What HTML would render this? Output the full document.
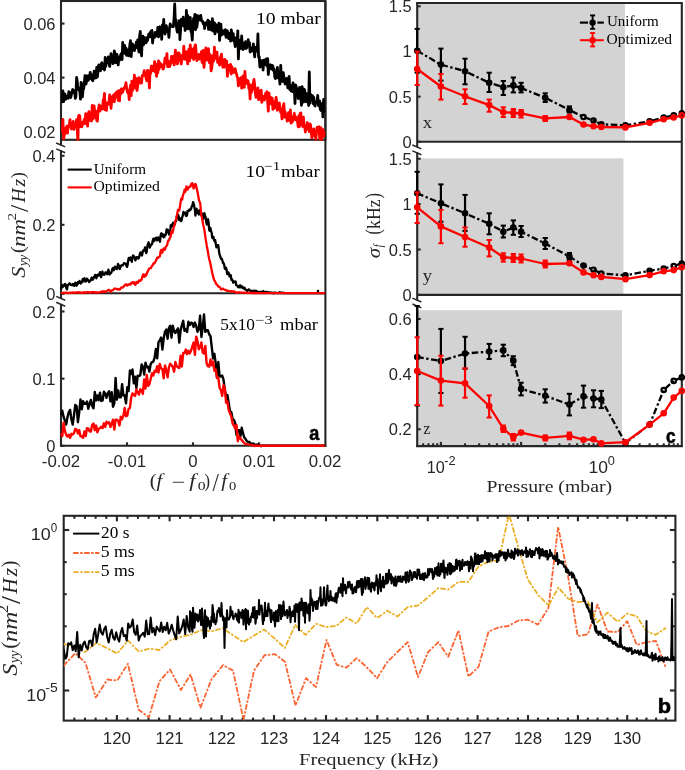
<!DOCTYPE html>
<html><head><meta charset="utf-8"><style>
html,body{margin:0;padding:0;background:#fff;width:685px;height:770px;overflow:hidden}
svg{display:block;will-change:transform}
</style></head><body>
<svg width="685" height="770" viewBox="0 0 685 770">
<rect width="685" height="770" fill="#fff"/>
<rect x="61.0" y="1.0" width="264.4" height="138.8" fill="none" stroke="#262626" stroke-width="2.1"/>
<line x1="325.40" y1="1.00" x2="325.40" y2="446.75" stroke="#262626" stroke-width="2.1" />
<line x1="61.00" y1="139.80" x2="61.00" y2="145.30" stroke="#262626" stroke-width="2.1" />
<line x1="61.00" y1="150.20" x2="61.00" y2="298.80" stroke="#262626" stroke-width="2.1" />
<line x1="61.00" y1="303.90" x2="61.00" y2="446.75" stroke="#262626" stroke-width="2.1" />
<line x1="61.00" y1="293.30" x2="325.40" y2="293.30" stroke="#262626" stroke-width="2.1" />
<line x1="60.05" y1="445.80" x2="326.35" y2="445.80" stroke="#262626" stroke-width="2.1" />
<line x1="56.20" y1="143.00" x2="65.20" y2="146.90" stroke="#262626" stroke-width="1.5" /><line x1="56.20" y1="148.90" x2="65.20" y2="152.80" stroke="#262626" stroke-width="1.5" />
<line x1="56.20" y1="296.40" x2="65.20" y2="300.30" stroke="#262626" stroke-width="1.5" /><line x1="56.20" y1="302.30" x2="65.20" y2="306.20" stroke="#262626" stroke-width="1.5" />
<line x1="61.00" y1="23.60" x2="64.50" y2="23.60" stroke="#262626" stroke-width="2.1" /><text x="55.50" y="29.60" font-family="Liberation Sans" font-size="16" fill="#262626" text-anchor="end" textLength="32.08" lengthAdjust="spacingAndGlyphs">0.06</text>
<line x1="61.00" y1="77.60" x2="64.50" y2="77.60" stroke="#262626" stroke-width="2.1" /><text x="55.50" y="83.60" font-family="Liberation Sans" font-size="16" fill="#262626" text-anchor="end" textLength="32.08" lengthAdjust="spacingAndGlyphs">0.04</text>
<line x1="61.00" y1="131.60" x2="64.50" y2="131.60" stroke="#262626" stroke-width="2.1" /><text x="55.50" y="137.60" font-family="Liberation Sans" font-size="16" fill="#262626" text-anchor="end" textLength="32.08" lengthAdjust="spacingAndGlyphs">0.02</text>
<line x1="61.00" y1="155.80" x2="64.50" y2="155.80" stroke="#262626" stroke-width="2.1" /><text x="55.50" y="161.80" font-family="Liberation Sans" font-size="16" fill="#262626" text-anchor="end" textLength="22.91" lengthAdjust="spacingAndGlyphs">0.4</text>
<line x1="61.00" y1="224.80" x2="64.50" y2="224.80" stroke="#262626" stroke-width="2.1" /><text x="55.50" y="230.80" font-family="Liberation Sans" font-size="16" fill="#262626" text-anchor="end" textLength="22.91" lengthAdjust="spacingAndGlyphs">0.2</text>
<line x1="61.00" y1="293.80" x2="64.50" y2="293.80" stroke="#262626" stroke-width="2.1" /><text x="55.50" y="299.80" font-family="Liberation Sans" font-size="16" fill="#262626" text-anchor="end" textLength="9.17" lengthAdjust="spacingAndGlyphs">0</text>
<line x1="61.00" y1="311.50" x2="64.50" y2="311.50" stroke="#262626" stroke-width="2.1" /><text x="55.50" y="317.50" font-family="Liberation Sans" font-size="16" fill="#262626" text-anchor="end" textLength="22.91" lengthAdjust="spacingAndGlyphs">0.2</text>
<line x1="61.00" y1="378.65" x2="64.50" y2="378.65" stroke="#262626" stroke-width="2.1" /><text x="55.50" y="384.65" font-family="Liberation Sans" font-size="16" fill="#262626" text-anchor="end" textLength="22.91" lengthAdjust="spacingAndGlyphs">0.1</text>
<line x1="61.00" y1="445.80" x2="64.50" y2="445.80" stroke="#262626" stroke-width="2.1" /><text x="55.50" y="451.80" font-family="Liberation Sans" font-size="16" fill="#262626" text-anchor="end" textLength="9.17" lengthAdjust="spacingAndGlyphs">0</text>
<text x="61.0" y="467.3" font-family="Liberation Sans" font-size="16" fill="#262626" text-anchor="middle" textLength="38.29" lengthAdjust="spacingAndGlyphs">-0.02</text>
<line x1="127.00" y1="445.80" x2="127.00" y2="442.30" stroke="#262626" stroke-width="2.1" />
<text x="127.0" y="467.3" font-family="Liberation Sans" font-size="16" fill="#262626" text-anchor="middle" textLength="38.29" lengthAdjust="spacingAndGlyphs">-0.01</text>
<line x1="193" y1="445.80" x2="193" y2="442.30" stroke="#262626" stroke-width="2.1" />
<text x="193.0" y="467.3" font-family="Liberation Sans" font-size="16" fill="#262626" text-anchor="middle" textLength="9.34" lengthAdjust="spacingAndGlyphs">0</text>
<line x1="259.00" y1="445.80" x2="259.00" y2="442.30" stroke="#262626" stroke-width="2.1" />
<text x="259.0" y="467.3" font-family="Liberation Sans" font-size="16" fill="#262626" text-anchor="middle" textLength="32.70" lengthAdjust="spacingAndGlyphs">0.01</text>
<text x="325.0" y="467.3" font-family="Liberation Sans" font-size="16" fill="#262626" text-anchor="middle" textLength="32.70" lengthAdjust="spacingAndGlyphs">0.02</text>
<clipPath id="cpT"><rect x="61.0" y="1.0" width="264.4" height="139.8"/></clipPath>
<g clip-path="url(#cpT)">
<polyline points="61.0,99.7 61.6,101.9 62.3,99.2 62.9,90.8 63.6,101.7 64.2,99.1 64.9,94.0 65.5,99.4 66.2,98.1 66.8,97.5 67.5,96.0 68.1,98.4 68.8,91.7 69.4,94.4 70.1,92.5 70.7,97.5 71.4,94.4 72.0,92.3 72.7,89.5 73.3,91.7 74.0,92.6 74.6,90.8 75.3,98.3 75.9,96.5 76.6,77.5 77.2,81.2 77.9,89.4 78.5,87.8 79.2,90.5 79.8,90.2 80.5,99.1 81.1,82.3 81.8,85.3 82.4,96.8 83.1,89.1 83.7,88.6 84.4,82.0 85.0,75.7 85.7,84.1 86.3,83.2 87.0,75.9 87.6,77.9 88.3,80.3 88.9,75.3 89.6,78.9 90.2,72.4 90.9,78.3 91.5,75.0 92.2,79.9 92.8,80.8 93.5,77.4 94.1,71.1 94.8,78.2 95.4,71.5 96.1,77.8 96.7,67.5 97.4,76.8 98.0,71.6 98.7,64.8 99.3,68.9 100.0,70.2 100.6,70.7 101.3,63.8 101.9,62.7 102.6,68.7 103.2,64.9 103.9,67.9 104.5,70.0 105.2,57.4 105.8,66.4 106.5,60.7 107.1,62.6 107.8,59.5 108.4,56.9 109.1,63.8 109.7,66.5 110.4,59.8 111.0,53.6 111.7,60.0 112.3,58.0 113.0,63.7 113.6,60.4 114.3,50.9 114.9,52.7 115.6,62.7 116.2,61.2 116.9,54.3 117.5,57.1 118.2,64.9 118.8,58.6 119.5,60.3 120.1,56.8 120.8,54.6 121.4,53.4 122.1,59.5 122.7,42.5 123.4,52.6 124.0,53.0 124.7,45.3 125.3,53.6 126.0,48.2 126.6,55.4 127.3,50.0 127.9,53.5 128.6,55.8 129.2,51.1 129.9,44.4 130.5,40.7 131.2,56.7 131.8,47.1 132.5,43.9 133.1,47.7 133.8,45.8 134.4,50.7 135.1,46.3 135.7,45.9 136.4,42.0 137.0,47.6 137.7,39.8 138.3,48.0 139.0,52.0 139.6,36.4 140.3,31.4 140.9,46.6 141.6,55.9 142.2,37.8 142.9,36.1 143.5,44.9 144.2,37.3 144.8,38.5 145.5,38.8 146.1,42.8 146.8,37.6 147.4,40.6 148.1,37.8 148.7,34.1 149.4,36.2 150.0,32.6 150.7,36.9 151.3,30.8 152.0,30.5 152.6,43.0 153.3,35.1 153.9,34.8 154.6,37.3 155.2,32.3 155.9,32.9 156.5,35.9 157.2,34.8 157.8,27.3 158.5,36.9 159.1,29.5 159.8,26.8 160.4,27.3 161.1,29.5 161.7,39.3 162.4,24.9 163.0,31.3 163.7,19.5 164.3,29.8 165.0,34.0 165.6,28.0 166.3,25.7 166.9,29.7 167.6,31.7 168.2,31.2 168.9,37.4 169.5,28.3 170.2,23.9 170.8,25.9 171.5,25.9 172.1,26.5 172.8,25.8 173.4,26.7 174.1,17.5 174.7,4.0 175.4,22.8 176.0,19.8 176.7,28.8 177.3,32.1 178.0,27.9 178.6,26.2 179.3,20.7 179.9,39.6 180.6,29.6 181.2,19.5 181.9,21.2 182.5,25.5 183.2,17.2 183.8,25.6 184.5,22.3 185.1,30.5 185.8,29.0 186.4,10.4 187.1,24.0 187.7,15.5 188.4,28.9 189.0,24.0 189.7,25.7 190.3,17.5 191.0,31.7 191.6,32.5 192.3,40.0 192.9,23.9 193.6,18.3 194.2,21.1 194.9,14.5 195.5,29.8 196.2,15.2 196.8,27.3 197.5,21.8 198.1,15.9 198.8,18.5 199.4,17.4 200.1,20.1 200.7,15.5 201.4,19.7 202.0,21.4 202.7,21.4 203.3,23.9 204.0,22.7 204.6,28.5 205.3,23.5 205.9,24.8 206.6,22.5 207.2,23.5 207.9,20.1 208.5,29.4 209.2,21.4 209.8,23.7 210.5,29.5 211.1,30.1 211.8,26.4 212.4,18.6 213.1,31.2 213.7,30.7 214.4,22.6 215.0,33.9 215.7,26.7 216.3,24.8 217.0,31.1 217.6,29.9 218.3,32.0 218.9,23.2 219.6,40.4 220.2,28.6 220.9,24.1 221.5,35.1 222.2,30.4 222.8,34.0 223.5,30.9 224.1,32.4 224.8,34.2 225.4,29.7 226.1,37.4 226.7,32.2 227.4,30.8 228.0,36.1 228.7,38.6 229.3,35.8 230.0,33.2 230.6,41.2 231.3,29.9 231.9,34.1 232.6,40.0 233.2,33.6 233.9,41.1 234.5,41.3 235.2,46.6 235.8,37.8 236.5,39.5 237.1,44.5 237.8,30.8 238.4,58.9 239.1,40.1 239.7,40.3 240.4,48.5 241.0,44.2 241.7,35.8 242.3,48.1 243.0,49.5 243.6,43.2 244.3,44.3 244.9,48.4 245.6,41.6 246.2,48.4 246.9,47.4 247.5,43.1 248.2,39.7 248.8,45.6 249.5,42.5 250.1,52.0 250.8,47.9 251.4,51.2 252.1,48.1 252.7,48.9 253.4,43.8 254.0,51.2 254.7,56.9 255.3,47.3 256.0,47.4 256.6,51.2 257.3,51.1 257.9,34.0 258.6,57.3 259.2,56.7 259.9,67.0 260.5,60.5 261.2,62.7 261.8,66.4 262.5,60.7 263.1,70.0 263.8,60.3 264.4,60.0 265.1,62.8 265.7,64.6 266.4,58.8 267.0,66.2 267.7,58.6 268.3,74.5 269.0,67.7 269.6,65.5 270.3,64.7 270.9,67.7 271.6,69.0 272.2,65.4 272.9,66.4 273.5,70.5 274.2,69.3 274.8,77.1 275.5,78.5 276.1,73.4 276.8,76.1 277.4,67.5 278.1,77.9 278.7,75.0 279.4,78.0 280.0,84.0 280.7,65.3 281.3,78.6 282.0,72.4 282.6,81.5 283.3,72.6 283.9,77.3 284.6,81.4 285.2,84.1 285.9,82.0 286.5,78.3 287.2,80.1 287.8,87.9 288.5,84.0 289.1,76.3 289.8,89.5 290.4,88.0 291.1,90.8 291.7,85.3 292.4,91.7 293.0,82.8 293.7,91.5 294.3,86.7 295.0,103.5 295.6,84.8 296.3,87.2 296.9,91.2 297.6,92.2 298.2,98.5 298.9,96.6 299.5,87.5 300.2,96.4 300.8,98.1 301.5,105.3 302.1,86.6 302.8,92.6 303.4,102.2 304.1,89.1 304.7,90.1 305.4,99.0 306.0,101.8 306.7,93.7 307.3,100.0 308.0,98.2 308.6,105.5 309.3,72.0 309.9,103.4 310.6,94.4 311.2,98.5 311.9,99.3 312.5,95.7 313.2,103.6 313.8,97.4 314.5,105.1 315.1,106.0 315.8,102.0 316.4,101.7 317.1,102.5 317.7,95.5 318.4,105.3 319.0,106.0 319.7,101.0 320.3,109.4 321.0,110.4 321.6,103.6 322.3,104.3 322.9,116.9 323.6,99.3 324.2,110.4 324.9,112.7" fill="none" stroke="#000" stroke-width="2.8" stroke-linejoin="round" />
<polyline points="61.0,132.9 61.6,129.2 62.3,129.3 62.9,119.4 63.6,139.0 64.2,135.6 64.9,128.3 65.5,133.1 66.2,130.4 66.8,126.1 67.5,133.0 68.1,126.6 68.8,126.1 69.4,123.6 70.1,119.6 70.7,126.2 71.4,129.0 72.0,123.3 72.7,126.5 73.3,121.5 74.0,129.4 74.6,126.0 75.3,126.4 75.9,126.5 76.6,119.6 77.2,127.8 77.9,142.4 78.5,115.9 79.2,115.2 79.8,116.0 80.5,126.6 81.1,122.8 81.8,126.8 82.4,124.7 83.1,121.8 83.7,121.7 84.4,119.1 85.0,123.5 85.7,113.7 86.3,116.6 87.0,119.2 87.6,126.1 88.3,113.6 88.9,111.7 89.6,113.6 90.2,120.4 90.9,114.2 91.5,121.0 92.2,105.4 92.8,119.0 93.5,118.1 94.1,106.0 94.8,112.9 95.4,117.4 96.1,111.5 96.7,120.4 97.4,121.2 98.0,110.8 98.7,107.7 99.3,104.9 100.0,111.0 100.6,106.6 101.3,106.2 101.9,106.1 102.6,109.2 103.2,100.6 103.9,98.0 104.5,93.3 105.2,109.9 105.8,104.1 106.5,110.4 107.1,102.8 107.8,103.8 108.4,104.1 109.1,101.0 109.7,95.0 110.4,96.3 111.0,108.3 111.7,101.2 112.3,101.0 113.0,97.3 113.6,94.9 114.3,101.9 114.9,96.7 115.6,93.2 116.2,95.7 116.9,91.6 117.5,96.3 118.2,100.3 118.8,90.6 119.5,100.8 120.1,90.5 120.8,93.9 121.4,88.8 122.1,91.3 122.7,92.2 123.4,89.5 124.0,87.9 124.7,87.6 125.3,86.5 126.0,82.6 126.6,88.4 127.3,91.1 127.9,93.1 128.6,91.5 129.2,99.6 129.9,89.2 130.5,85.1 131.2,95.7 131.8,81.5 132.5,90.5 133.1,80.9 133.8,86.6 134.4,75.2 135.1,88.2 135.7,82.8 136.4,78.5 137.0,90.5 137.7,85.7 138.3,81.9 139.0,77.7 139.6,80.5 140.3,79.5 140.9,83.2 141.6,83.0 142.2,75.6 142.9,75.6 143.5,75.1 144.2,70.7 144.8,73.7 145.5,75.4 146.1,78.5 146.8,80.9 147.4,70.3 148.1,76.1 148.7,70.8 149.4,88.0 150.0,71.5 150.7,73.5 151.3,66.2 152.0,66.2 152.6,70.7 153.3,67.7 153.9,70.9 154.6,61.6 155.2,71.8 155.9,64.2 156.5,76.3 157.2,66.6 157.8,72.8 158.5,60.8 159.1,69.2 159.8,62.7 160.4,64.3 161.1,66.5 161.7,64.6 162.4,67.0 163.0,69.0 163.7,68.2 164.3,64.4 165.0,58.1 165.6,60.4 166.3,62.9 166.9,53.6 167.6,66.7 168.2,61.7 168.9,61.4 169.5,66.7 170.2,65.0 170.8,62.6 171.5,56.5 172.1,62.4 172.8,62.3 173.4,56.2 174.1,64.9 174.7,62.1 175.4,50.2 176.0,59.7 176.7,52.9 177.3,63.9 178.0,62.1 178.6,52.8 179.3,53.5 179.9,57.9 180.6,56.0 181.2,64.0 181.9,60.0 182.5,54.9 183.2,58.7 183.8,46.2 184.5,57.0 185.1,59.4 185.8,54.3 186.4,51.6 187.1,57.4 187.7,63.8 188.4,55.3 189.0,48.9 189.7,60.8 190.3,45.0 191.0,56.0 191.6,50.7 192.3,57.6 192.9,49.0 193.6,59.5 194.2,54.9 194.9,45.7 195.5,44.8 196.2,52.9 196.8,60.7 197.5,55.5 198.1,55.5 198.8,54.4 199.4,59.2 200.1,57.8 200.7,57.4 201.4,51.6 202.0,61.9 202.7,62.8 203.3,50.3 204.0,67.4 204.6,60.0 205.3,54.4 205.9,47.8 206.6,60.0 207.2,59.6 207.9,54.3 208.5,48.7 209.2,62.5 209.8,54.5 210.5,55.2 211.1,70.9 211.8,67.6 212.4,62.1 213.1,55.6 213.7,60.9 214.4,47.2 215.0,58.5 215.7,54.9 216.3,52.9 217.0,52.0 217.6,62.3 218.3,60.7 218.9,61.5 219.6,65.2 220.2,57.7 220.9,56.3 221.5,54.2 222.2,61.5 222.8,67.1 223.5,63.2 224.1,67.4 224.8,59.3 225.4,63.3 226.1,62.6 226.7,61.1 227.4,76.4 228.0,72.4 228.7,65.5 229.3,66.2 230.0,70.2 230.6,64.4 231.3,74.0 231.9,66.6 232.6,71.6 233.2,69.3 233.9,72.5 234.5,69.2 235.2,68.8 235.8,72.1 236.5,74.0 237.1,76.3 237.8,78.6 238.4,85.9 239.1,83.1 239.7,78.6 240.4,83.7 241.0,77.6 241.7,88.2 242.3,84.5 243.0,76.0 243.6,86.5 244.3,87.3 244.9,71.3 245.6,80.8 246.2,82.4 246.9,83.5 247.5,80.3 248.2,81.1 248.8,88.3 249.5,87.7 250.1,98.9 250.8,85.0 251.4,92.6 252.1,87.9 252.7,89.1 253.4,82.7 254.0,79.5 254.7,85.2 255.3,92.9 256.0,97.4 256.6,93.4 257.3,93.5 257.9,87.9 258.6,99.6 259.2,99.4 259.9,91.2 260.5,94.1 261.2,90.2 261.8,102.4 262.5,98.0 263.1,96.3 263.8,99.3 264.4,100.0 265.1,96.6 265.7,93.2 266.4,93.4 267.0,91.7 267.7,102.4 268.3,111.1 269.0,93.1 269.6,102.2 270.3,103.9 270.9,97.7 271.6,103.8 272.2,98.1 272.9,109.3 273.5,101.3 274.2,105.0 274.8,108.1 275.5,103.3 276.1,97.4 276.8,103.8 277.4,110.3 278.1,106.8 278.7,108.7 279.4,103.0 280.0,109.2 280.7,112.4 281.3,109.6 282.0,118.9 282.6,109.4 283.3,105.9 283.9,103.7 284.6,117.1 285.2,111.9 285.9,117.4 286.5,115.2 287.2,121.2 287.8,119.9 288.5,112.7 289.1,116.2 289.8,120.5 290.4,110.0 291.1,123.1 291.7,122.4 292.4,121.8 293.0,116.7 293.7,119.5 294.3,113.3 295.0,119.3 295.6,116.7 296.3,120.3 296.9,118.0 297.6,122.2 298.2,126.8 298.9,115.6 299.5,126.5 300.2,113.3 300.8,112.9 301.5,123.0 302.1,124.0 302.8,126.5 303.4,117.2 304.1,125.1 304.7,126.4 305.4,132.1 306.0,126.0 306.7,129.3 307.3,122.6 308.0,126.6 308.6,125.7 309.3,131.5 309.9,123.8 310.6,124.9 311.2,131.8 311.9,137.9 312.5,131.6 313.2,131.5 313.8,128.8 314.5,135.9 315.1,133.6 315.8,139.5 316.4,133.1 317.1,127.4 317.7,129.4 318.4,127.7 319.0,126.7 319.7,138.8 320.3,136.9 321.0,127.6 321.6,142.0 322.3,135.1 322.9,129.7 323.6,136.3 324.2,134.4 324.9,131.3" fill="none" stroke="#f00" stroke-width="2.8" stroke-linejoin="round" />
</g>
<polyline points="61.0,289.5 61.6,286.8 62.2,285.0 62.8,286.8 63.4,285.8 64.0,286.0 64.6,284.2 65.2,284.0 65.8,285.0 66.4,288.4 67.0,289.4 67.6,285.5 68.2,284.8 68.8,284.3 69.4,283.3 70.0,283.5 70.6,284.9 71.2,284.8 71.8,285.2 72.4,285.0 73.0,283.9 73.6,285.5 74.2,285.9 74.8,283.6 75.4,282.7 76.0,283.6 76.6,285.7 77.2,284.7 77.8,282.2 78.4,283.4 79.0,282.6 79.6,281.0 80.2,282.7 80.8,283.5 81.4,282.5 82.0,282.4 82.6,279.2 83.2,279.4 83.8,281.2 84.4,278.2 85.0,279.3 85.6,281.7 86.2,280.8 86.8,278.7 87.4,279.1 88.0,280.0 88.6,281.3 89.2,282.1 89.8,280.6 90.4,280.8 91.0,280.1 91.6,277.6 92.2,278.2 92.8,279.7 93.4,278.5 94.0,276.8 94.6,277.0 95.2,274.9 95.8,275.2 96.4,278.3 97.0,275.4 97.6,274.7 98.2,275.2 98.8,275.7 99.4,274.3 100.0,272.2 100.6,275.0 101.2,277.1 101.8,273.6 102.4,271.5 103.0,274.1 103.6,273.7 104.2,274.9 104.8,274.0 105.4,272.4 106.0,272.3 106.6,273.3 107.2,274.2 107.8,271.9 108.4,269.7 109.0,271.9 109.6,274.5 110.2,273.2 110.8,273.3 111.4,272.5 112.0,270.2 112.6,268.5 113.2,268.0 113.8,270.3 114.4,269.2 115.0,266.6 115.6,267.6 116.2,268.3 116.8,269.1 117.4,267.0 118.0,263.9 118.6,265.1 119.2,268.3 119.8,269.0 120.4,267.4 121.0,265.7 121.6,265.4 122.2,265.1 122.8,265.4 123.4,264.3 124.0,263.1 124.6,263.5 125.2,263.6 125.8,263.7 126.4,265.7 127.0,266.9 127.6,265.2 128.2,260.5 128.8,257.8 129.4,259.2 130.0,259.9 130.6,257.5 131.2,258.0 131.8,261.8 132.4,258.4 133.0,255.5 133.6,255.8 134.2,256.7 134.8,258.2 135.4,260.4 136.0,259.0 136.6,257.1 137.2,257.2 137.8,258.1 138.4,258.6 139.0,257.7 139.6,255.1 140.2,252.7 140.8,252.4 141.4,254.1 142.0,255.5 142.6,252.5 143.2,250.4 143.8,250.9 144.4,250.0 145.0,247.4 145.6,248.5 146.2,253.1 146.8,251.4 147.4,246.2 148.0,244.2 148.6,242.3 149.2,244.4 149.8,247.5 150.4,246.1 151.0,244.8 151.6,244.5 152.2,243.7 152.8,240.3 153.4,238.7 154.0,241.2 154.6,240.1 155.2,238.5 155.8,237.9 156.4,237.7 157.0,240.4 157.6,239.8 158.2,237.3 158.8,239.3 159.4,240.4 160.0,241.8 160.6,235.6 161.2,233.3 161.8,236.0 162.4,233.9 163.0,236.0 163.6,237.3 164.2,237.2 164.8,234.6 165.4,235.2 166.0,233.7 166.6,229.5 167.2,231.2 167.8,229.7 168.4,231.9 169.0,234.5 169.6,234.0 170.2,231.2 170.8,225.2 171.4,224.9 172.0,226.4 172.6,224.2 173.2,222.7 173.8,223.2 174.4,225.0 175.0,223.0 175.6,221.3 176.2,220.9 176.8,216.3 177.4,215.7 178.0,214.7 178.6,216.0 179.2,220.1 179.8,219.6 180.4,218.5 181.0,221.2 181.6,220.3 182.2,217.1 182.8,215.7 183.4,211.8 184.0,213.7 184.6,213.1 185.2,212.6 185.8,215.6 186.4,216.0 187.0,215.4 187.6,210.8 188.2,211.2 188.8,211.2 189.4,209.5 190.0,210.2 190.6,209.6 191.2,208.4 191.8,206.3 192.4,205.6 193.0,202.2 193.6,203.2 194.2,206.0 194.8,209.5 195.4,215.5 196.0,210.1 196.6,208.7 197.2,213.2 197.8,211.1 198.4,212.9 199.0,214.5 199.6,210.2 200.2,210.9 200.8,214.5 201.4,215.5 202.0,213.5 202.6,214.8 203.2,219.1 203.8,215.7 204.4,213.1 205.0,215.5 205.6,216.9 206.2,221.8 206.8,224.6 207.4,220.2 208.0,219.3 208.6,222.5 209.2,230.0 209.8,230.9 210.4,228.0 211.0,231.1 211.6,232.4 212.2,237.7 212.8,238.3 213.4,236.8 214.0,239.9 214.6,241.3 215.2,240.1 215.8,243.9 216.4,247.4 217.0,245.4 217.6,245.2 218.2,245.2 218.8,249.5 219.4,254.0 220.0,255.7 220.6,257.6 221.2,259.1 221.8,258.7 222.4,260.5 223.0,263.0 223.6,263.0 224.2,264.8 224.8,268.5 225.4,269.1 226.0,267.8 226.6,269.7 227.2,274.1 227.8,273.9 228.4,272.4 229.0,273.7 229.6,276.6 230.2,275.5 230.8,275.3 231.4,279.8 232.0,279.2 232.6,280.4 233.2,282.7 233.8,281.3 234.4,281.8 235.0,281.7 235.6,281.5 236.2,285.2 236.8,285.4 237.4,285.8 238.0,287.0 238.6,286.8 239.2,287.4 239.8,285.4 240.4,285.3 241.0,287.4 241.6,287.3 242.2,286.5 242.8,287.8 243.4,288.5 244.0,287.6 244.6,287.9 245.2,289.5 245.8,289.8 246.4,289.9 247.0,290.9 247.6,290.6 248.2,289.7 248.8,289.4 249.4,289.9 250.0,290.7 250.6,290.9 251.2,290.9 251.8,290.9 252.4,290.9 253.0,291.0 253.6,291.0 254.2,290.9 254.8,290.7 255.4,291.0 256.0,291.1 256.6,291.0 257.2,291.6 257.8,291.8 258.4,292.5 259.0,292.8 259.6,291.9 260.2,291.9 260.8,292.2 261.4,291.8 262.0,292.1 262.6,292.1 263.2,291.1 263.8,291.5 264.4,292.2 265.0,292.4 265.6,292.4 266.2,291.8 266.8,292.4 267.4,292.4 268.0,292.1 268.6,292.8 269.2,292.8 269.8,292.5 270.4,292.5 271.0,292.8 271.6,292.6 272.2,292.6 272.8,292.9 273.4,293.4 274.0,293.2 274.6,292.5 275.2,292.8 275.8,292.9 276.4,292.8 277.0,292.9 277.6,293.2 278.2,293.0 278.8,292.7 279.4,292.3 280.0,292.2 280.6,293.1 281.2,293.2 281.8,292.7 282.4,292.6 283.0,292.9 283.6,293.2 284.2,292.8 284.8,293.0 285.4,293.2 286.0,293.1 286.6,293.1 287.2,293.1 287.8,293.1 288.4,293.2 289.0,293.2 289.6,293.2 290.2,293.2 290.8,293.2 291.4,293.2 292.0,293.2 292.6,293.2 293.2,293.2 293.8,293.2 294.4,293.2 295.0,293.2 295.6,293.2 296.2,293.2 296.8,293.2 297.4,293.2 298.0,293.2 298.6,293.2 299.2,293.2 299.8,293.2 300.4,293.2 301.0,293.2 301.6,293.2 302.2,293.2 302.8,293.2 303.4,293.2 304.0,293.2 304.6,293.2 305.2,293.2 305.8,293.2 306.4,293.2 307.0,293.2 307.6,293.2 308.2,293.2 308.8,293.2 309.4,293.2 310.0,293.2 310.6,293.2 311.2,293.2 311.8,293.2 312.4,293.2 313.0,293.2 313.6,293.2 314.2,293.2 314.8,293.2 315.4,293.2 316.0,293.2 316.6,293.2 317.2,293.2 317.8,293.2 318.4,293.2 319.0,293.2 319.6,293.2 320.2,293.2 320.8,293.2 321.4,293.2 322.0,293.2 322.6,293.2 323.2,293.2 323.8,293.2 324.4,293.2 325.0,293.2" fill="none" stroke="#000" stroke-width="2.3" stroke-linejoin="round" />
<polyline points="61.0,292.9 61.6,292.9 62.2,293.1 62.8,293.2 63.4,292.8 64.0,292.7 64.6,292.8 65.2,292.9 65.8,292.7 66.4,292.7 67.0,292.9 67.6,293.1 68.2,293.1 68.8,293.0 69.4,292.7 70.0,292.9 70.6,292.9 71.2,292.7 71.8,292.9 72.4,292.6 73.0,292.5 73.6,292.5 74.2,292.7 74.8,292.8 75.4,293.0 76.0,292.6 76.6,292.3 77.2,292.5 77.8,292.6 78.4,292.4 79.0,292.1 79.6,292.6 80.2,292.3 80.8,292.5 81.4,292.8 82.0,292.8 82.6,293.0 83.2,292.5 83.8,292.1 84.4,292.3 85.0,292.6 85.6,292.9 86.2,292.5 86.8,292.2 87.4,292.1 88.0,292.1 88.6,292.2 89.2,292.3 89.8,292.9 90.4,292.8 91.0,292.2 91.6,292.4 92.2,292.2 92.8,292.0 93.4,292.2 94.0,292.5 94.6,292.2 95.2,292.3 95.8,292.6 96.4,292.2 97.0,292.6 97.6,292.7 98.2,292.7 98.8,292.6 99.4,292.3 100.0,292.3 100.6,291.9 101.2,292.1 101.8,292.1 102.4,291.2 103.0,292.0 103.6,292.3 104.2,291.2 104.8,291.7 105.4,291.9 106.0,291.6 106.6,291.4 107.2,290.8 107.8,290.4 108.4,289.8 109.0,289.9 109.6,290.5 110.2,291.0 110.8,291.8 111.4,291.0 112.0,290.4 112.6,290.4 113.2,289.8 113.8,289.3 114.4,288.6 115.0,288.7 115.6,288.7 116.2,288.9 116.8,289.0 117.4,289.4 118.0,289.7 118.6,289.1 119.2,289.4 119.8,289.5 120.4,288.6 121.0,287.8 121.6,287.3 122.2,287.5 122.8,287.6 123.4,286.8 124.0,286.4 124.6,285.4 125.2,284.9 125.8,284.3 126.4,284.7 127.0,285.5 127.6,284.6 128.2,284.8 128.8,284.6 129.4,284.0 130.0,284.6 130.6,284.6 131.2,283.0 131.8,283.0 132.4,282.2 133.0,282.8 133.6,283.6 134.2,282.2 134.8,283.7 135.4,285.0 136.0,283.2 136.6,281.9 137.2,282.4 137.8,283.0 138.4,281.8 139.0,280.4 139.6,281.2 140.2,281.0 140.8,280.1 141.4,279.8 142.0,277.8 142.6,276.1 143.2,274.4 143.8,274.3 144.4,276.9 145.0,275.7 145.6,274.7 146.2,275.5 146.8,273.6 147.4,271.9 148.0,271.2 148.6,269.6 149.2,268.5 149.8,268.2 150.4,268.2 151.0,268.1 151.6,266.4 152.2,265.7 152.8,264.9 153.4,263.4 154.0,263.6 154.6,263.1 155.2,261.9 155.8,261.1 156.4,259.8 157.0,258.1 157.6,257.4 158.2,257.8 158.8,256.9 159.4,256.7 160.0,256.0 160.6,251.2 161.2,249.9 161.8,252.9 162.4,252.5 163.0,249.9 163.6,248.4 164.2,249.0 164.8,249.8 165.4,248.2 166.0,246.5 166.6,245.9 167.2,245.1 167.8,241.6 168.4,240.3 169.0,240.3 169.6,238.4 170.2,237.5 170.8,236.0 171.4,231.3 172.0,230.9 172.6,232.8 173.2,229.8 173.8,226.7 174.4,225.5 175.0,222.8 175.6,220.4 176.2,219.3 176.8,216.1 177.4,212.8 178.0,210.0 178.6,210.3 179.2,210.6 179.8,207.6 180.4,203.6 181.0,199.6 181.6,198.3 182.2,199.6 182.8,195.7 183.4,194.2 184.0,192.5 184.6,189.7 185.2,191.9 185.8,189.7 186.4,186.3 187.0,187.3 187.6,189.6 188.2,187.9 188.8,187.7 189.4,186.5 190.0,186.2 190.6,186.6 191.2,183.9 191.8,183.7 192.4,183.3 193.0,185.4 193.6,188.4 194.2,187.3 194.8,184.8 195.4,183.9 196.0,184.9 196.6,188.1 197.2,190.6 197.8,193.4 198.4,196.7 199.0,200.5 199.6,201.8 200.2,203.2 200.8,209.9 201.4,215.5 202.0,217.3 202.6,221.3 203.2,224.7 203.8,227.2 204.4,230.1 205.0,234.3 205.6,238.6 206.2,242.1 206.8,245.9 207.4,248.9 208.0,252.1 208.6,256.0 209.2,259.0 209.8,261.1 210.4,263.8 211.0,266.8 211.6,269.8 212.2,272.8 212.8,275.1 213.4,277.4 214.0,279.8 214.6,280.6 215.2,281.8 215.8,283.1 216.4,284.2 217.0,284.5 217.6,285.4 218.2,286.5 218.8,286.7 219.4,287.0 220.0,287.3 220.6,288.7 221.2,289.4 221.8,289.1 222.4,288.9 223.0,288.6 223.6,289.1 224.2,289.5 224.8,289.9 225.4,289.9 226.0,290.1 226.6,290.8 227.2,290.7 227.8,290.8 228.4,290.9 229.0,290.9 229.6,291.2 230.2,291.5 230.8,291.4 231.4,291.2 232.0,291.6 232.6,291.5 233.2,291.4 233.8,291.5 234.4,291.5 235.0,291.9 235.6,292.2 236.2,292.6 236.8,292.8 237.4,292.6 238.0,292.5 238.6,292.3 239.2,292.5 239.8,292.3 240.4,292.6 241.0,292.6 241.6,292.6 242.2,292.7 242.8,292.7 243.4,292.7 244.0,292.7 244.6,292.7 245.2,292.8 245.8,292.8 246.4,292.8 247.0,292.8 247.6,292.8 248.2,292.8 248.8,292.9 249.4,292.9 250.0,292.9 250.6,292.9 251.2,292.9 251.8,293.0 252.4,293.0 253.0,293.0 253.6,293.0 254.2,293.0 254.8,293.0 255.4,293.1 256.0,293.1 256.6,293.1 257.2,293.1 257.8,293.1 258.4,293.2 259.0,293.2 259.6,293.2 260.2,293.2 260.8,293.2 261.4,293.2 262.0,293.2 262.6,293.2 263.2,293.2 263.8,293.2 264.4,293.2 265.0,293.2 265.6,293.2 266.2,293.2 266.8,293.2 267.4,293.2 268.0,293.2 268.6,293.2 269.2,293.2 269.8,293.2 270.4,293.2 271.0,293.2 271.6,293.2 272.2,293.2 272.8,293.2 273.4,293.2 274.0,293.2 274.6,293.2 275.2,293.2 275.8,293.2 276.4,293.2 277.0,293.2 277.6,293.2 278.2,293.2 278.8,293.2 279.4,293.2 280.0,293.2 280.6,293.2 281.2,293.2 281.8,293.2 282.4,293.2 283.0,293.2 283.6,293.2 284.2,293.2 284.8,293.2 285.4,293.2 286.0,293.2 286.6,293.2 287.2,293.2 287.8,293.2 288.4,293.2 289.0,293.2 289.6,293.2 290.2,293.2 290.8,293.2 291.4,293.2 292.0,293.2 292.6,293.2 293.2,293.2 293.8,293.2 294.4,293.2 295.0,293.2 295.6,293.2 296.2,293.2 296.8,293.2 297.4,293.2 298.0,293.2 298.6,293.2 299.2,293.2 299.8,293.2 300.4,293.2 301.0,293.2 301.6,293.2 302.2,293.2 302.8,293.2 303.4,293.2 304.0,293.2 304.6,293.2 305.2,293.2 305.8,293.2 306.4,293.2 307.0,293.2 307.6,293.2 308.2,293.2 308.8,293.2 309.4,293.2 310.0,293.2 310.6,293.2 311.2,293.2 311.8,293.2 312.4,293.2 313.0,293.2 313.6,293.2 314.2,293.2 314.8,293.2 315.4,293.2 316.0,293.2 316.6,293.2 317.2,293.2 317.8,293.2 318.4,293.2 319.0,293.2 319.6,293.2 320.2,293.2 320.8,293.2 321.4,293.2 322.0,293.2 322.6,293.2 323.2,293.2 323.8,293.2 324.4,293.2 325.0,293.2" fill="none" stroke="#f00" stroke-width="2.3" stroke-linejoin="round" />
<circle cx="318" cy="291" r="1.3" fill="#000"/>
<polyline points="61.0,414.8 62.3,410.7 63.6,416.9 64.9,420.6 66.2,424.5 67.5,417.1 68.8,412.1 70.1,409.9 71.4,419.3 72.7,424.5 74.0,415.2 75.3,404.9 76.6,406.1 77.9,422.2 79.2,412.6 80.5,399.4 81.8,409.2 83.1,401.3 84.4,403.8 85.7,403.8 87.0,401.5 88.3,408.8 89.6,403.9 90.9,399.9 92.2,406.0 93.5,408.3 94.8,391.9 96.1,400.5 97.4,395.4 98.7,400.3 100.0,392.6 101.3,401.0 102.6,400.5 103.9,391.7 105.2,393.7 106.5,397.8 107.8,393.1 109.1,391.3 110.4,401.3 111.7,392.3 113.0,406.7 114.3,403.4 115.6,378.0 116.9,399.7 118.2,390.4 119.5,397.4 120.8,397.3 122.1,384.1 123.4,395.5 124.7,395.3 126.0,403.3 127.3,387.3 128.6,391.1 129.9,370.5 131.2,373.9 132.5,369.5 133.8,383.4 135.1,376.6 136.4,388.0 137.7,375.6 139.0,376.1 140.3,375.2 141.6,364.5 142.9,366.6 144.2,374.6 145.5,362.7 146.8,367.3 148.1,366.7 149.4,371.6 150.7,363.9 152.0,362.2 153.3,361.7 154.6,357.6 155.9,348.9 157.2,358.3 158.5,342.0 159.8,340.5 161.1,337.5 162.4,349.5 163.7,338.3 165.0,331.7 166.3,329.6 167.6,338.7 168.9,328.0 170.2,325.7 171.5,337.7 172.8,325.7 174.1,331.1 175.4,333.0 176.7,330.4 178.0,328.3 179.3,342.6 180.6,330.4 181.9,325.1 183.2,320.8 184.5,330.9 185.8,329.1 187.1,332.0 188.4,321.6 189.7,325.1 191.0,322.7 192.3,323.2 193.6,326.9 194.9,322.6 196.2,325.9 197.5,331.8 198.8,328.9 200.1,315.7 201.4,337.0 202.7,327.7 204.0,314.5 205.3,331.9 206.6,330.2 207.9,330.3 209.2,334.3 210.5,336.2 211.8,347.4 213.1,358.5 214.4,353.8 215.7,363.3 217.0,377.4 218.3,362.0 219.6,376.2 220.9,376.6 222.2,375.5 223.5,379.6 224.8,389.9 226.1,397.0 227.4,394.9 228.7,402.9 230.0,411.4 231.3,412.0 232.6,419.0 233.9,419.7 235.2,423.2 236.5,435.0 237.8,430.3 239.1,430.2 240.4,436.6 241.7,427.8 243.0,433.2 244.3,437.5 245.6,439.1 246.9,441.2 248.2,442.1 249.5,441.9 250.8,443.8 252.1,443.9 253.4,443.5 254.7,444.9 256.0,444.8 257.3,444.5 258.6,445.3 259.9,445.4 261.2,446.2 262.5,445.6 263.8,445.7 265.1,445.7 266.4,445.8 267.7,445.8 269.0,445.8 270.3,445.8 271.6,445.8 272.9,445.8 274.2,445.8 275.5,445.8 276.8,445.8 278.1,445.8 279.4,445.8 280.7,445.8 282.0,445.8 283.3,445.8 284.6,445.8 285.9,445.8 287.2,445.8 288.5,445.8 289.8,445.8 291.1,445.8 292.4,445.8 293.7,445.8 295.0,445.8 296.3,445.8 297.6,445.8 298.9,445.8 300.2,445.8 301.5,445.8 302.8,445.8 304.1,445.8 305.4,445.8 306.7,445.8 308.0,445.8 309.3,445.8 310.6,445.8 311.9,445.8 313.2,445.8 314.5,445.8 315.8,445.8 317.1,445.8 318.4,445.8 319.7,445.8 321.0,445.8 322.3,445.8 323.6,445.8 324.9,445.8" fill="none" stroke="#000" stroke-width="2.4" stroke-linejoin="round" />
<polyline points="61.0,433.4 62.3,436.1 63.6,422.6 64.9,430.9 66.2,435.0 67.5,436.6 68.8,434.7 70.1,437.9 71.4,433.8 72.7,434.5 74.0,433.2 75.3,428.9 76.6,429.5 77.9,433.5 79.2,430.1 80.5,436.2 81.8,436.2 83.1,437.8 84.4,431.5 85.7,436.1 87.0,428.2 88.3,428.4 89.6,431.3 90.9,431.6 92.2,424.6 93.5,423.6 94.8,430.3 96.1,425.6 97.4,432.3 98.7,428.9 100.0,428.1 101.3,426.7 102.6,428.1 103.9,423.3 105.2,426.9 106.5,421.7 107.8,423.3 109.1,422.2 110.4,426.9 111.7,423.9 113.0,419.7 114.3,429.6 115.6,419.7 116.9,419.7 118.2,420.8 119.5,425.4 120.8,416.8 122.1,419.2 123.4,415.7 124.7,408.0 126.0,416.2 127.3,415.7 128.6,408.6 129.9,408.1 131.2,397.5 132.5,393.4 133.8,394.8 135.1,395.9 136.4,389.6 137.7,392.3 139.0,394.6 140.3,389.2 141.6,390.6 142.9,393.9 144.2,379.4 145.5,388.5 146.8,374.9 148.1,385.9 149.4,384.3 150.7,378.7 152.0,373.2 153.3,375.4 154.6,370.8 155.9,371.9 157.2,366.1 158.5,372.6 159.8,363.9 161.1,368.4 162.4,369.0 163.7,378.3 165.0,365.5 166.3,370.1 167.6,377.4 168.9,367.4 170.2,363.7 171.5,365.3 172.8,366.9 174.1,371.7 175.4,362.0 176.7,366.3 178.0,367.3 179.3,367.9 180.6,355.6 181.9,366.5 183.2,353.0 184.5,353.1 185.8,349.6 187.1,354.1 188.4,350.7 189.7,353.4 191.0,350.8 192.3,346.5 193.6,342.6 194.9,354.9 196.2,336.7 197.5,341.1 198.8,349.2 200.1,347.4 201.4,342.5 202.7,352.3 204.0,353.5 205.3,345.9 206.6,363.3 207.9,366.2 209.2,366.7 210.5,359.5 211.8,365.3 213.1,361.6 214.4,370.8 215.7,369.4 217.0,378.0 218.3,377.5 219.6,387.7 220.9,390.2 222.2,395.9 223.5,385.3 224.8,387.9 226.1,402.7 227.4,401.5 228.7,410.0 230.0,413.2 231.3,416.3 232.6,423.6 233.9,425.5 235.2,428.6 236.5,425.0 237.8,441.2 239.1,436.4 240.4,438.6 241.7,440.0 243.0,441.8 244.3,443.2 245.6,444.1 246.9,444.3 248.2,444.4 249.5,444.7 250.8,445.0 252.1,445.2 253.4,445.3 254.7,446.0 256.0,445.7 257.3,445.7 258.6,445.8 259.9,445.8 261.2,445.8 262.5,445.8 263.8,445.8 265.1,445.8 266.4,445.8 267.7,445.8 269.0,445.8 270.3,445.8 271.6,445.8 272.9,445.8 274.2,445.8 275.5,445.8 276.8,445.8 278.1,445.8 279.4,445.8 280.7,445.8 282.0,445.8 283.3,445.8 284.6,445.8 285.9,445.8 287.2,445.8 288.5,445.8 289.8,445.8 291.1,445.8 292.4,445.8 293.7,445.8 295.0,445.8 296.3,445.8 297.6,445.8 298.9,445.8 300.2,445.8 301.5,445.8 302.8,445.8 304.1,445.8 305.4,445.8 306.7,445.8 308.0,445.8 309.3,445.8 310.6,445.8 311.9,445.8 313.2,445.8 314.5,445.8 315.8,445.8 317.1,445.8 318.4,445.8 319.7,445.8 321.0,445.8 322.3,445.8 323.6,445.8 324.9,445.8" fill="none" stroke="#f00" stroke-width="2.4" stroke-linejoin="round" />
<text x="255.93" y="23.70" font-family="Liberation Serif" font-size="17.5" fill="#000" textLength="64.96" lengthAdjust="spacingAndGlyphs" >10 mbar</text>
<text x="245.54" y="176.70" font-family="Liberation Serif" font-size="17.5" fill="#000" textLength="19.54" lengthAdjust="spacingAndGlyphs" >10</text>
<text x="264.25" y="169.50" font-family="Liberation Serif" font-size="12" fill="#000" textLength="16.04" lengthAdjust="spacingAndGlyphs" >−1</text>
<text x="281.02" y="176.70" font-family="Liberation Serif" font-size="17.5" fill="#000" textLength="38.66" lengthAdjust="spacingAndGlyphs" >mbar</text>
<text x="220.36" y="330.10" font-family="Liberation Serif" font-size="17.5" fill="#000" textLength="34.63" lengthAdjust="spacingAndGlyphs" >5x10</text>
<text x="255.18" y="324.10" font-family="Liberation Serif" font-size="12" fill="#000" textLength="17.46" lengthAdjust="spacingAndGlyphs" >−3</text>
<text x="280.13" y="330.10" font-family="Liberation Serif" font-size="17.5" fill="#000" textLength="37.85" lengthAdjust="spacingAndGlyphs" >mbar</text>
<line x1="67.60" y1="169.60" x2="91.70" y2="169.60" stroke="#000" stroke-width="2.1" />
<line x1="67.60" y1="187.40" x2="91.70" y2="187.40" stroke="#f00" stroke-width="2.1" />
<text x="93.80" y="173.60" font-family="Liberation Serif" font-size="15.5" fill="#000" textLength="52.21" lengthAdjust="spacingAndGlyphs" >Uniform</text>
<text x="93.47" y="190.90" font-family="Liberation Serif" font-size="15.5" fill="#000" textLength="66.30" lengthAdjust="spacingAndGlyphs" >Optimized</text>
<text x="309.36" y="440.20" font-family="Liberation Sans" font-size="20.5" font-weight="bold" fill="#000" textLength="10.08" lengthAdjust="spacingAndGlyphs" stroke="#000" stroke-width="0.5">a</text>
<text x="149.88" y="487.20" font-family="Liberation Serif" font-size="19.3" fill="#262626" textLength="6.79" lengthAdjust="spacingAndGlyphs" >(</text>
<text x="156.49" y="487.20" font-family="Liberation Serif" font-size="18" font-style="italic" fill="#262626" textLength="5.77" lengthAdjust="spacingAndGlyphs" >f</text>
<text x="171.47" y="488.40" font-family="Liberation Serif" font-size="18" fill="#262626" textLength="13.83" lengthAdjust="spacingAndGlyphs" >−</text>
<text x="189.27" y="487.20" font-family="Liberation Serif" font-size="18" font-style="italic" fill="#262626" textLength="6.35" lengthAdjust="spacingAndGlyphs" >f</text>
<text x="197.67" y="489.90" font-family="Liberation Serif" font-size="12.5" fill="#262626" textLength="7.86" lengthAdjust="spacingAndGlyphs" >0</text>
<text x="204.40" y="487.20" font-family="Liberation Serif" font-size="19.3" fill="#262626" textLength="5.51" lengthAdjust="spacingAndGlyphs" >)</text>
<text x="212.40" y="491.00" font-family="Liberation Serif" font-size="25.8" fill="#262626" textLength="6.36" lengthAdjust="spacingAndGlyphs" >/</text>
<text x="221.39" y="487.20" font-family="Liberation Serif" font-size="18" font-style="italic" fill="#262626" textLength="5.84" lengthAdjust="spacingAndGlyphs" >f</text>
<text x="229.12" y="489.90" font-family="Liberation Serif" font-size="12.5" fill="#262626" textLength="7.26" lengthAdjust="spacingAndGlyphs" >0</text>
<g transform="translate(24.5,277.5) rotate(-90) scale(1.0)"><text x="-0.22" y="0.00" font-family="Liberation Serif" font-size="19" font-style="italic" fill="#262626" textLength="11.16" lengthAdjust="spacingAndGlyphs" >S</text><text x="11.48" y="2.20" font-family="Liberation Serif" font-size="13" font-style="italic" fill="#262626" textLength="11.29" lengthAdjust="spacingAndGlyphs" >yy</text><text x="24.62" y="-0.20" font-family="Liberation Serif" font-size="19.8" fill="#262626" textLength="6.53" lengthAdjust="spacingAndGlyphs" >(</text><text x="30.50" y="0.00" font-family="Liberation Serif" font-size="19" font-style="italic" fill="#262626" textLength="27.97" lengthAdjust="spacingAndGlyphs" >nm</text><text x="57.11" y="-8.10" font-family="Liberation Serif" font-size="12.5" fill="#262626" textLength="7.63" lengthAdjust="spacingAndGlyphs" >2</text><text x="65.60" y="3.40" font-family="Liberation Serif" font-size="25.8" fill="#262626" textLength="7.27" lengthAdjust="spacingAndGlyphs" >/</text><text x="75.10" y="0.00" font-family="Liberation Serif" font-size="19" font-style="italic" fill="#262626" textLength="14.16" lengthAdjust="spacingAndGlyphs" >H</text><text x="91.10" y="0.00" font-family="Liberation Serif" font-size="19" font-style="italic" fill="#262626" textLength="7.68" lengthAdjust="spacingAndGlyphs" >z</text><text x="99.26" y="-0.20" font-family="Liberation Serif" font-size="19.8" fill="#262626" textLength="6.02" lengthAdjust="spacingAndGlyphs" >)</text></g>
<rect x="417.2" y="3.0" width="207.7" height="138.8" fill="#d3d3d3"/>
<rect x="417.2" y="158.4" width="206.2" height="136.49999999999997" fill="#d3d3d3"/>
<rect x="417.2" y="310.2" width="204.8" height="135.90000000000003" fill="#d3d3d3"/>
<line x1="416.25" y1="3.00" x2="682.75" y2="3.00" stroke="#262626" stroke-width="2.1" />
<line x1="681.80" y1="3.00" x2="681.80" y2="447.05" stroke="#262626" stroke-width="2.1" />
<line x1="417.20" y1="2.05" x2="417.20" y2="147.30" stroke="#262626" stroke-width="2.1" />
<line x1="417.20" y1="141.80" x2="681.80" y2="141.80" stroke="#262626" stroke-width="2.1" />
<line x1="417.20" y1="152.20" x2="417.20" y2="300.40" stroke="#262626" stroke-width="2.1" />
<line x1="417.20" y1="294.90" x2="681.80" y2="294.90" stroke="#262626" stroke-width="2.1" />
<line x1="417.20" y1="305.80" x2="417.20" y2="447.05" stroke="#262626" stroke-width="2.1" />
<line x1="416.25" y1="446.10" x2="682.75" y2="446.10" stroke="#262626" stroke-width="2.1" />
<line x1="412.40" y1="145.00" x2="421.40" y2="148.90" stroke="#262626" stroke-width="1.5" /><line x1="412.40" y1="150.90" x2="421.40" y2="154.80" stroke="#262626" stroke-width="1.5" />
<line x1="412.40" y1="298.10" x2="421.40" y2="302.00" stroke="#262626" stroke-width="1.5" /><line x1="412.40" y1="304.00" x2="421.40" y2="307.90" stroke="#262626" stroke-width="1.5" />
<line x1="417.20" y1="6.31" x2="420.70" y2="6.31" stroke="#262626" stroke-width="2.1" /><text x="411.70" y="12.31" font-family="Liberation Sans" font-size="16" fill="#262626" text-anchor="end" textLength="22.91" lengthAdjust="spacingAndGlyphs">1.5</text>
<line x1="417.20" y1="51.47" x2="420.70" y2="51.47" stroke="#262626" stroke-width="2.1" /><text x="411.70" y="57.47" font-family="Liberation Sans" font-size="16" fill="#262626" text-anchor="end" textLength="9.17" lengthAdjust="spacingAndGlyphs">1</text>
<line x1="417.20" y1="96.64" x2="420.70" y2="96.64" stroke="#262626" stroke-width="2.1" /><text x="411.70" y="102.64" font-family="Liberation Sans" font-size="16" fill="#262626" text-anchor="end" textLength="22.91" lengthAdjust="spacingAndGlyphs">0.5</text>
<line x1="417.20" y1="141.80" x2="420.70" y2="141.80" stroke="#262626" stroke-width="2.1" /><text x="411.70" y="147.80" font-family="Liberation Sans" font-size="16" fill="#262626" text-anchor="end" textLength="9.17" lengthAdjust="spacingAndGlyphs">0</text>
<line x1="417.20" y1="158.70" x2="420.70" y2="158.70" stroke="#262626" stroke-width="2.1" /><text x="411.70" y="164.70" font-family="Liberation Sans" font-size="16" fill="#262626" text-anchor="end" textLength="22.91" lengthAdjust="spacingAndGlyphs">1.5</text>
<line x1="417.20" y1="204.10" x2="420.70" y2="204.10" stroke="#262626" stroke-width="2.1" /><text x="411.70" y="210.10" font-family="Liberation Sans" font-size="16" fill="#262626" text-anchor="end" textLength="9.17" lengthAdjust="spacingAndGlyphs">1</text>
<line x1="417.20" y1="249.50" x2="420.70" y2="249.50" stroke="#262626" stroke-width="2.1" /><text x="411.70" y="255.50" font-family="Liberation Sans" font-size="16" fill="#262626" text-anchor="end" textLength="22.91" lengthAdjust="spacingAndGlyphs">0.5</text>
<line x1="417.20" y1="294.90" x2="420.70" y2="294.90" stroke="#262626" stroke-width="2.1" /><text x="411.70" y="300.90" font-family="Liberation Sans" font-size="16" fill="#262626" text-anchor="end" textLength="9.17" lengthAdjust="spacingAndGlyphs">0</text>
<line x1="417.20" y1="319.00" x2="420.70" y2="319.00" stroke="#262626" stroke-width="2.1" /><text x="411.70" y="325.00" font-family="Liberation Sans" font-size="16" fill="#262626" text-anchor="end" textLength="22.91" lengthAdjust="spacingAndGlyphs">0.6</text>
<line x1="417.20" y1="374.15" x2="420.70" y2="374.15" stroke="#262626" stroke-width="2.1" /><text x="411.70" y="380.15" font-family="Liberation Sans" font-size="16" fill="#262626" text-anchor="end" textLength="22.91" lengthAdjust="spacingAndGlyphs">0.4</text>
<line x1="417.20" y1="429.30" x2="420.70" y2="429.30" stroke="#262626" stroke-width="2.1" /><text x="411.70" y="435.30" font-family="Liberation Sans" font-size="16" fill="#262626" text-anchor="end" textLength="22.91" lengthAdjust="spacingAndGlyphs">0.2</text>
<line x1="423.11" y1="446.10" x2="423.11" y2="443.30" stroke="#262626" stroke-width="2.1" />
<line x1="428.48" y1="446.10" x2="428.48" y2="443.30" stroke="#262626" stroke-width="2.1" />
<line x1="433.13" y1="446.10" x2="433.13" y2="443.30" stroke="#262626" stroke-width="2.1" />
<line x1="437.23" y1="446.10" x2="437.23" y2="443.30" stroke="#262626" stroke-width="2.1" />
<line x1="440.90" y1="446.10" x2="440.90" y2="441.90" stroke="#262626" stroke-width="2.1" />
<line x1="465.04" y1="446.10" x2="465.04" y2="443.30" stroke="#262626" stroke-width="2.1" />
<line x1="479.17" y1="446.10" x2="479.17" y2="443.30" stroke="#262626" stroke-width="2.1" />
<line x1="489.19" y1="446.10" x2="489.19" y2="443.30" stroke="#262626" stroke-width="2.1" />
<line x1="496.96" y1="446.10" x2="496.96" y2="443.30" stroke="#262626" stroke-width="2.1" />
<line x1="503.31" y1="446.10" x2="503.31" y2="443.30" stroke="#262626" stroke-width="2.1" />
<line x1="508.68" y1="446.10" x2="508.68" y2="443.30" stroke="#262626" stroke-width="2.1" />
<line x1="513.33" y1="446.10" x2="513.33" y2="443.30" stroke="#262626" stroke-width="2.1" />
<line x1="517.43" y1="446.10" x2="517.43" y2="443.30" stroke="#262626" stroke-width="2.1" />
<line x1="521.10" y1="446.10" x2="521.10" y2="441.90" stroke="#262626" stroke-width="2.1" />
<line x1="545.24" y1="446.10" x2="545.24" y2="443.30" stroke="#262626" stroke-width="2.1" />
<line x1="559.37" y1="446.10" x2="559.37" y2="443.30" stroke="#262626" stroke-width="2.1" />
<line x1="569.39" y1="446.10" x2="569.39" y2="443.30" stroke="#262626" stroke-width="2.1" />
<line x1="577.16" y1="446.10" x2="577.16" y2="443.30" stroke="#262626" stroke-width="2.1" />
<line x1="583.51" y1="446.10" x2="583.51" y2="443.30" stroke="#262626" stroke-width="2.1" />
<line x1="588.88" y1="446.10" x2="588.88" y2="443.30" stroke="#262626" stroke-width="2.1" />
<line x1="593.53" y1="446.10" x2="593.53" y2="443.30" stroke="#262626" stroke-width="2.1" />
<line x1="597.63" y1="446.10" x2="597.63" y2="443.30" stroke="#262626" stroke-width="2.1" />
<line x1="601.30" y1="446.10" x2="601.30" y2="441.90" stroke="#262626" stroke-width="2.1" />
<line x1="625.44" y1="446.10" x2="625.44" y2="443.30" stroke="#262626" stroke-width="2.1" />
<line x1="639.57" y1="446.10" x2="639.57" y2="443.30" stroke="#262626" stroke-width="2.1" />
<line x1="649.59" y1="446.10" x2="649.59" y2="443.30" stroke="#262626" stroke-width="2.1" />
<line x1="657.36" y1="446.10" x2="657.36" y2="443.30" stroke="#262626" stroke-width="2.1" />
<line x1="663.71" y1="446.10" x2="663.71" y2="443.30" stroke="#262626" stroke-width="2.1" />
<line x1="669.08" y1="446.10" x2="669.08" y2="443.30" stroke="#262626" stroke-width="2.1" />
<line x1="673.73" y1="446.10" x2="673.73" y2="443.30" stroke="#262626" stroke-width="2.1" />
<line x1="677.83" y1="446.10" x2="677.83" y2="443.30" stroke="#262626" stroke-width="2.1" />
<line x1="417.20" y1="28.90" x2="417.20" y2="72.70" stroke="#000" stroke-width="2.2" /><line x1="414.60" y1="28.90" x2="419.80" y2="28.90" stroke="#000" stroke-width="2.0" /><line x1="414.60" y1="72.70" x2="419.80" y2="72.70" stroke="#000" stroke-width="2.0" /><line x1="440.90" y1="48.60" x2="440.90" y2="80.60" stroke="#000" stroke-width="2.2" /><line x1="438.30" y1="48.60" x2="443.50" y2="48.60" stroke="#000" stroke-width="2.0" /><line x1="438.30" y1="80.60" x2="443.50" y2="80.60" stroke="#000" stroke-width="2.0" /><line x1="465.04" y1="58.70" x2="465.04" y2="84.30" stroke="#000" stroke-width="2.2" /><line x1="462.44" y1="58.70" x2="467.64" y2="58.70" stroke="#000" stroke-width="2.0" /><line x1="462.44" y1="84.30" x2="467.64" y2="84.30" stroke="#000" stroke-width="2.0" /><line x1="489.19" y1="72.70" x2="489.19" y2="92" stroke="#000" stroke-width="2.2" /><line x1="486.59" y1="72.70" x2="491.79" y2="72.70" stroke="#000" stroke-width="2.0" /><line x1="486.59" y1="92" x2="491.79" y2="92" stroke="#000" stroke-width="2.0" /><line x1="503.31" y1="81" x2="503.31" y2="95" stroke="#000" stroke-width="2.2" /><line x1="500.71" y1="81" x2="505.91" y2="81" stroke="#000" stroke-width="2.0" /><line x1="500.71" y1="95" x2="505.91" y2="95" stroke="#000" stroke-width="2.0" /><line x1="513.33" y1="77.50" x2="513.33" y2="92.40" stroke="#000" stroke-width="2.2" /><line x1="510.73" y1="77.50" x2="515.93" y2="77.50" stroke="#000" stroke-width="2.0" /><line x1="510.73" y1="92.40" x2="515.93" y2="92.40" stroke="#000" stroke-width="2.0" /><line x1="521.10" y1="82.80" x2="521.10" y2="92.40" stroke="#000" stroke-width="2.2" /><line x1="518.50" y1="82.80" x2="523.70" y2="82.80" stroke="#000" stroke-width="2.0" /><line x1="518.50" y1="92.40" x2="523.70" y2="92.40" stroke="#000" stroke-width="2.0" /><line x1="545.24" y1="93.30" x2="545.24" y2="102" stroke="#000" stroke-width="2.2" /><line x1="542.64" y1="93.30" x2="547.84" y2="93.30" stroke="#000" stroke-width="2.0" /><line x1="542.64" y1="102" x2="547.84" y2="102" stroke="#000" stroke-width="2.0" /><line x1="569.39" y1="106.40" x2="569.39" y2="112.60" stroke="#000" stroke-width="2.2" /><line x1="566.79" y1="106.40" x2="571.99" y2="106.40" stroke="#000" stroke-width="2.0" /><line x1="566.79" y1="112.60" x2="571.99" y2="112.60" stroke="#000" stroke-width="2.0" /><polyline points="417.20,50.80 440.90,64.60 465.04,71.20 489.19,82.80 503.31,87.20 513.33,85.40 521.10,88.00 545.24,97.80 569.39,110.00 583.51,117.00 593.53,120.50 601.30,124.30 625.44,125.30 649.59,121.30 663.71,117.50 673.73,115.40 681.80,113.30" fill="none" stroke="#000" stroke-width="2.3" stroke-linejoin="round" stroke-dasharray="6.6,2.5,2.4,2.5"/><circle cx="417.20" cy="50.80" r="2.2" fill="none" stroke="#000" stroke-width="2.2"/><circle cx="440.90" cy="64.60" r="2.2" fill="none" stroke="#000" stroke-width="2.2"/><circle cx="465.04" cy="71.20" r="2.2" fill="none" stroke="#000" stroke-width="2.2"/><circle cx="489.19" cy="82.80" r="2.2" fill="none" stroke="#000" stroke-width="2.2"/><circle cx="503.31" cy="87.20" r="2.2" fill="none" stroke="#000" stroke-width="2.2"/><circle cx="513.33" cy="85.40" r="2.2" fill="none" stroke="#000" stroke-width="2.2"/><circle cx="521.10" cy="88.00" r="2.2" fill="none" stroke="#000" stroke-width="2.2"/><circle cx="545.24" cy="97.80" r="2.2" fill="none" stroke="#000" stroke-width="2.2"/><circle cx="569.39" cy="110.00" r="2.2" fill="none" stroke="#000" stroke-width="2.2"/><circle cx="583.51" cy="117.00" r="2.2" fill="none" stroke="#000" stroke-width="2.2"/><circle cx="593.53" cy="120.50" r="2.2" fill="none" stroke="#000" stroke-width="2.2"/><circle cx="601.30" cy="124.30" r="2.2" fill="none" stroke="#000" stroke-width="2.2"/><circle cx="625.44" cy="125.30" r="2.2" fill="none" stroke="#000" stroke-width="2.2"/><circle cx="649.59" cy="121.30" r="2.2" fill="none" stroke="#000" stroke-width="2.2"/><circle cx="663.71" cy="117.50" r="2.2" fill="none" stroke="#000" stroke-width="2.2"/><circle cx="673.73" cy="115.40" r="2.2" fill="none" stroke="#000" stroke-width="2.2"/><circle cx="681.80" cy="113.30" r="2.2" fill="none" stroke="#000" stroke-width="2.2"/>
<line x1="417.20" y1="51.50" x2="417.20" y2="85" stroke="#f00" stroke-width="2.2" /><line x1="414.60" y1="51.50" x2="419.80" y2="51.50" stroke="#f00" stroke-width="2.0" /><line x1="414.60" y1="85" x2="419.80" y2="85" stroke="#f00" stroke-width="2.0" /><line x1="440.90" y1="74" x2="440.90" y2="99.60" stroke="#f00" stroke-width="2.2" /><line x1="438.30" y1="74" x2="443.50" y2="74" stroke="#f00" stroke-width="2.0" /><line x1="438.30" y1="99.60" x2="443.50" y2="99.60" stroke="#f00" stroke-width="2.0" /><line x1="465.04" y1="89.30" x2="465.04" y2="104" stroke="#f00" stroke-width="2.2" /><line x1="462.44" y1="89.30" x2="467.64" y2="89.30" stroke="#f00" stroke-width="2.0" /><line x1="462.44" y1="104" x2="467.64" y2="104" stroke="#f00" stroke-width="2.0" /><line x1="489.19" y1="99.60" x2="489.19" y2="111.70" stroke="#f00" stroke-width="2.2" /><line x1="486.59" y1="99.60" x2="491.79" y2="99.60" stroke="#f00" stroke-width="2.0" /><line x1="486.59" y1="111.70" x2="491.79" y2="111.70" stroke="#f00" stroke-width="2.0" /><line x1="503.31" y1="107.30" x2="503.31" y2="117" stroke="#f00" stroke-width="2.2" /><line x1="500.71" y1="107.30" x2="505.91" y2="107.30" stroke="#f00" stroke-width="2.0" /><line x1="500.71" y1="117" x2="505.91" y2="117" stroke="#f00" stroke-width="2.0" /><line x1="513.33" y1="109" x2="513.33" y2="117" stroke="#f00" stroke-width="2.2" /><line x1="510.73" y1="109" x2="515.93" y2="109" stroke="#f00" stroke-width="2.0" /><line x1="510.73" y1="117" x2="515.93" y2="117" stroke="#f00" stroke-width="2.0" /><line x1="521.10" y1="110" x2="521.10" y2="117.50" stroke="#f00" stroke-width="2.2" /><line x1="518.50" y1="110" x2="523.70" y2="110" stroke="#f00" stroke-width="2.0" /><line x1="518.50" y1="117.50" x2="523.70" y2="117.50" stroke="#f00" stroke-width="2.0" /><line x1="545.24" y1="116" x2="545.24" y2="121" stroke="#f00" stroke-width="2.2" /><line x1="542.64" y1="116" x2="547.84" y2="116" stroke="#f00" stroke-width="2.0" /><line x1="542.64" y1="121" x2="547.84" y2="121" stroke="#f00" stroke-width="2.0" /><polyline points="417.20,69.00 440.90,86.50 465.04,96.30 489.19,105.10 503.31,112.20 513.33,112.90 521.10,113.40 545.24,118.40 569.39,117.00 583.51,124.50 593.53,126.30 601.30,127.00 625.44,127.40 649.59,122.80 663.71,119.20 673.73,117.50 681.80,115.40" fill="none" stroke="#f00" stroke-width="2.3" stroke-linejoin="round" /><circle cx="417.20" cy="69.00" r="2.2" fill="none" stroke="#f00" stroke-width="2.2"/><circle cx="440.90" cy="86.50" r="2.2" fill="none" stroke="#f00" stroke-width="2.2"/><circle cx="465.04" cy="96.30" r="2.2" fill="none" stroke="#f00" stroke-width="2.2"/><circle cx="489.19" cy="105.10" r="2.2" fill="none" stroke="#f00" stroke-width="2.2"/><circle cx="503.31" cy="112.20" r="2.2" fill="none" stroke="#f00" stroke-width="2.2"/><circle cx="513.33" cy="112.90" r="2.2" fill="none" stroke="#f00" stroke-width="2.2"/><circle cx="521.10" cy="113.40" r="2.2" fill="none" stroke="#f00" stroke-width="2.2"/><circle cx="545.24" cy="118.40" r="2.2" fill="none" stroke="#f00" stroke-width="2.2"/><circle cx="569.39" cy="117.00" r="2.2" fill="none" stroke="#f00" stroke-width="2.2"/><circle cx="583.51" cy="124.50" r="2.2" fill="none" stroke="#f00" stroke-width="2.2"/><circle cx="593.53" cy="126.30" r="2.2" fill="none" stroke="#f00" stroke-width="2.2"/><circle cx="601.30" cy="127.00" r="2.2" fill="none" stroke="#f00" stroke-width="2.2"/><circle cx="625.44" cy="127.40" r="2.2" fill="none" stroke="#f00" stroke-width="2.2"/><circle cx="649.59" cy="122.80" r="2.2" fill="none" stroke="#f00" stroke-width="2.2"/><circle cx="663.71" cy="119.20" r="2.2" fill="none" stroke="#f00" stroke-width="2.2"/><circle cx="673.73" cy="117.50" r="2.2" fill="none" stroke="#f00" stroke-width="2.2"/><circle cx="681.80" cy="115.40" r="2.2" fill="none" stroke="#f00" stroke-width="2.2"/>
<line x1="417.20" y1="171.80" x2="417.20" y2="213.80" stroke="#000" stroke-width="2.2" /><line x1="414.60" y1="171.80" x2="419.80" y2="171.80" stroke="#000" stroke-width="2.0" /><line x1="414.60" y1="213.80" x2="419.80" y2="213.80" stroke="#000" stroke-width="2.0" /><line x1="440.90" y1="184.40" x2="440.90" y2="221.70" stroke="#000" stroke-width="2.2" /><line x1="438.30" y1="184.40" x2="443.50" y2="184.40" stroke="#000" stroke-width="2.0" /><line x1="438.30" y1="221.70" x2="443.50" y2="221.70" stroke="#000" stroke-width="2.0" /><line x1="465.04" y1="194.90" x2="465.04" y2="230.90" stroke="#000" stroke-width="2.2" /><line x1="462.44" y1="194.90" x2="467.64" y2="194.90" stroke="#000" stroke-width="2.0" /><line x1="462.44" y1="230.90" x2="467.64" y2="230.90" stroke="#000" stroke-width="2.0" /><line x1="489.19" y1="213.30" x2="489.19" y2="234.30" stroke="#000" stroke-width="2.2" /><line x1="486.59" y1="213.30" x2="491.79" y2="213.30" stroke="#000" stroke-width="2.0" /><line x1="486.59" y1="234.30" x2="491.79" y2="234.30" stroke="#000" stroke-width="2.0" /><line x1="503.31" y1="225.60" x2="503.31" y2="237.50" stroke="#000" stroke-width="2.2" /><line x1="500.71" y1="225.60" x2="505.91" y2="225.60" stroke="#000" stroke-width="2.0" /><line x1="500.71" y1="237.50" x2="505.91" y2="237.50" stroke="#000" stroke-width="2.0" /><line x1="513.33" y1="220.40" x2="513.33" y2="234.80" stroke="#000" stroke-width="2.2" /><line x1="510.73" y1="220.40" x2="515.93" y2="220.40" stroke="#000" stroke-width="2.0" /><line x1="510.73" y1="234.80" x2="515.93" y2="234.80" stroke="#000" stroke-width="2.0" /><line x1="521.10" y1="226" x2="521.10" y2="237" stroke="#000" stroke-width="2.2" /><line x1="518.50" y1="226" x2="523.70" y2="226" stroke="#000" stroke-width="2.0" /><line x1="518.50" y1="237" x2="523.70" y2="237" stroke="#000" stroke-width="2.0" /><line x1="545.24" y1="238" x2="545.24" y2="249" stroke="#000" stroke-width="2.2" /><line x1="542.64" y1="238" x2="547.84" y2="238" stroke="#000" stroke-width="2.0" /><line x1="542.64" y1="249" x2="547.84" y2="249" stroke="#000" stroke-width="2.0" /><line x1="569.39" y1="253" x2="569.39" y2="260" stroke="#000" stroke-width="2.2" /><line x1="566.79" y1="253" x2="571.99" y2="253" stroke="#000" stroke-width="2.0" /><line x1="566.79" y1="260" x2="571.99" y2="260" stroke="#000" stroke-width="2.0" /><polyline points="417.20,193.30 440.90,203.30 465.04,213.30 489.19,223.80 503.31,231.70 513.33,227.50 521.10,231.70 545.24,243.60 569.39,256.50 583.51,265.60 593.53,269.70 601.30,273.50 625.44,275.30 649.59,270.80 663.71,268.50 673.73,266.00 681.80,263.60" fill="none" stroke="#000" stroke-width="2.3" stroke-linejoin="round" stroke-dasharray="6.6,2.5,2.4,2.5"/><circle cx="417.20" cy="193.30" r="2.2" fill="none" stroke="#000" stroke-width="2.2"/><circle cx="440.90" cy="203.30" r="2.2" fill="none" stroke="#000" stroke-width="2.2"/><circle cx="465.04" cy="213.30" r="2.2" fill="none" stroke="#000" stroke-width="2.2"/><circle cx="489.19" cy="223.80" r="2.2" fill="none" stroke="#000" stroke-width="2.2"/><circle cx="503.31" cy="231.70" r="2.2" fill="none" stroke="#000" stroke-width="2.2"/><circle cx="513.33" cy="227.50" r="2.2" fill="none" stroke="#000" stroke-width="2.2"/><circle cx="521.10" cy="231.70" r="2.2" fill="none" stroke="#000" stroke-width="2.2"/><circle cx="545.24" cy="243.60" r="2.2" fill="none" stroke="#000" stroke-width="2.2"/><circle cx="569.39" cy="256.50" r="2.2" fill="none" stroke="#000" stroke-width="2.2"/><circle cx="583.51" cy="265.60" r="2.2" fill="none" stroke="#000" stroke-width="2.2"/><circle cx="593.53" cy="269.70" r="2.2" fill="none" stroke="#000" stroke-width="2.2"/><circle cx="601.30" cy="273.50" r="2.2" fill="none" stroke="#000" stroke-width="2.2"/><circle cx="625.44" cy="275.30" r="2.2" fill="none" stroke="#000" stroke-width="2.2"/><circle cx="649.59" cy="270.80" r="2.2" fill="none" stroke="#000" stroke-width="2.2"/><circle cx="663.71" cy="268.50" r="2.2" fill="none" stroke="#000" stroke-width="2.2"/><circle cx="673.73" cy="266.00" r="2.2" fill="none" stroke="#000" stroke-width="2.2"/><circle cx="681.80" cy="263.60" r="2.2" fill="none" stroke="#000" stroke-width="2.2"/>
<line x1="417.20" y1="192.30" x2="417.20" y2="223" stroke="#f00" stroke-width="2.2" /><line x1="414.60" y1="192.30" x2="419.80" y2="192.30" stroke="#f00" stroke-width="2.0" /><line x1="414.60" y1="223" x2="419.80" y2="223" stroke="#f00" stroke-width="2.0" /><line x1="440.90" y1="209.90" x2="440.90" y2="243.20" stroke="#f00" stroke-width="2.2" /><line x1="438.30" y1="209.90" x2="443.50" y2="209.90" stroke="#f00" stroke-width="2.0" /><line x1="438.30" y1="243.20" x2="443.50" y2="243.20" stroke="#f00" stroke-width="2.0" /><line x1="465.04" y1="227.50" x2="465.04" y2="246.70" stroke="#f00" stroke-width="2.2" /><line x1="462.44" y1="227.50" x2="467.64" y2="227.50" stroke="#f00" stroke-width="2.0" /><line x1="462.44" y1="246.70" x2="467.64" y2="246.70" stroke="#f00" stroke-width="2.0" /><line x1="489.19" y1="240" x2="489.19" y2="256.40" stroke="#f00" stroke-width="2.2" /><line x1="486.59" y1="240" x2="491.79" y2="240" stroke="#f00" stroke-width="2.0" /><line x1="486.59" y1="256.40" x2="491.79" y2="256.40" stroke="#f00" stroke-width="2.0" /><line x1="503.31" y1="253.20" x2="503.31" y2="261.60" stroke="#f00" stroke-width="2.2" /><line x1="500.71" y1="253.20" x2="505.91" y2="253.20" stroke="#f00" stroke-width="2.0" /><line x1="500.71" y1="261.60" x2="505.91" y2="261.60" stroke="#f00" stroke-width="2.0" /><line x1="513.33" y1="254" x2="513.33" y2="262" stroke="#f00" stroke-width="2.2" /><line x1="510.73" y1="254" x2="515.93" y2="254" stroke="#f00" stroke-width="2.0" /><line x1="510.73" y1="262" x2="515.93" y2="262" stroke="#f00" stroke-width="2.0" /><line x1="521.10" y1="254.50" x2="521.10" y2="262.50" stroke="#f00" stroke-width="2.2" /><line x1="518.50" y1="254.50" x2="523.70" y2="254.50" stroke="#f00" stroke-width="2.0" /><line x1="518.50" y1="262.50" x2="523.70" y2="262.50" stroke="#f00" stroke-width="2.0" /><line x1="545.24" y1="260.50" x2="545.24" y2="267.50" stroke="#f00" stroke-width="2.2" /><line x1="542.64" y1="260.50" x2="547.84" y2="260.50" stroke="#f00" stroke-width="2.0" /><line x1="542.64" y1="267.50" x2="547.84" y2="267.50" stroke="#f00" stroke-width="2.0" /><polyline points="417.20,207.30 440.90,226.40 465.04,237.00 489.19,247.50 503.31,257.20 513.33,258.00 521.10,258.50 545.24,264.00 569.39,263.30 583.51,272.40 593.53,275.30 601.30,276.90 625.44,279.20 649.59,275.10 663.71,271.30 673.73,270.10 681.80,267.20" fill="none" stroke="#f00" stroke-width="2.3" stroke-linejoin="round" /><circle cx="417.20" cy="207.30" r="2.2" fill="none" stroke="#f00" stroke-width="2.2"/><circle cx="440.90" cy="226.40" r="2.2" fill="none" stroke="#f00" stroke-width="2.2"/><circle cx="465.04" cy="237.00" r="2.2" fill="none" stroke="#f00" stroke-width="2.2"/><circle cx="489.19" cy="247.50" r="2.2" fill="none" stroke="#f00" stroke-width="2.2"/><circle cx="503.31" cy="257.20" r="2.2" fill="none" stroke="#f00" stroke-width="2.2"/><circle cx="513.33" cy="258.00" r="2.2" fill="none" stroke="#f00" stroke-width="2.2"/><circle cx="521.10" cy="258.50" r="2.2" fill="none" stroke="#f00" stroke-width="2.2"/><circle cx="545.24" cy="264.00" r="2.2" fill="none" stroke="#f00" stroke-width="2.2"/><circle cx="569.39" cy="263.30" r="2.2" fill="none" stroke="#f00" stroke-width="2.2"/><circle cx="583.51" cy="272.40" r="2.2" fill="none" stroke="#f00" stroke-width="2.2"/><circle cx="593.53" cy="275.30" r="2.2" fill="none" stroke="#f00" stroke-width="2.2"/><circle cx="601.30" cy="276.90" r="2.2" fill="none" stroke="#f00" stroke-width="2.2"/><circle cx="625.44" cy="279.20" r="2.2" fill="none" stroke="#f00" stroke-width="2.2"/><circle cx="649.59" cy="275.10" r="2.2" fill="none" stroke="#f00" stroke-width="2.2"/><circle cx="663.71" cy="271.30" r="2.2" fill="none" stroke="#f00" stroke-width="2.2"/><circle cx="673.73" cy="270.10" r="2.2" fill="none" stroke="#f00" stroke-width="2.2"/><circle cx="681.80" cy="267.20" r="2.2" fill="none" stroke="#f00" stroke-width="2.2"/>
<line x1="417.20" y1="306" x2="417.20" y2="405.60" stroke="#000" stroke-width="2.2" /><line x1="414.60" y1="306" x2="419.80" y2="306" stroke="#000" stroke-width="2.0" /><line x1="414.60" y1="405.60" x2="419.80" y2="405.60" stroke="#000" stroke-width="2.0" /><line x1="440.90" y1="328.90" x2="440.90" y2="393" stroke="#000" stroke-width="2.2" /><line x1="438.30" y1="328.90" x2="443.50" y2="328.90" stroke="#000" stroke-width="2.0" /><line x1="438.30" y1="393" x2="443.50" y2="393" stroke="#000" stroke-width="2.0" /><line x1="465.04" y1="336.80" x2="465.04" y2="368.80" stroke="#000" stroke-width="2.2" /><line x1="462.44" y1="336.80" x2="467.64" y2="336.80" stroke="#000" stroke-width="2.0" /><line x1="462.44" y1="368.80" x2="467.64" y2="368.80" stroke="#000" stroke-width="2.0" /><line x1="489.19" y1="343.90" x2="489.19" y2="359" stroke="#000" stroke-width="2.2" /><line x1="486.59" y1="343.90" x2="491.79" y2="343.90" stroke="#000" stroke-width="2.0" /><line x1="486.59" y1="359" x2="491.79" y2="359" stroke="#000" stroke-width="2.0" /><line x1="503.31" y1="344.70" x2="503.31" y2="356.20" stroke="#000" stroke-width="2.2" /><line x1="500.71" y1="344.70" x2="505.91" y2="344.70" stroke="#000" stroke-width="2.0" /><line x1="500.71" y1="356.20" x2="505.91" y2="356.20" stroke="#000" stroke-width="2.0" /><line x1="513.33" y1="356.20" x2="513.33" y2="365.20" stroke="#000" stroke-width="2.2" /><line x1="510.73" y1="356.20" x2="515.93" y2="356.20" stroke="#000" stroke-width="2.0" /><line x1="510.73" y1="365.20" x2="515.93" y2="365.20" stroke="#000" stroke-width="2.0" /><line x1="521.10" y1="382.70" x2="521.10" y2="395.40" stroke="#000" stroke-width="2.2" /><line x1="518.50" y1="382.70" x2="523.70" y2="382.70" stroke="#000" stroke-width="2.0" /><line x1="518.50" y1="395.40" x2="523.70" y2="395.40" stroke="#000" stroke-width="2.0" /><line x1="545.24" y1="389.30" x2="545.24" y2="402.60" stroke="#000" stroke-width="2.2" /><line x1="542.64" y1="389.30" x2="547.84" y2="389.30" stroke="#000" stroke-width="2.0" /><line x1="542.64" y1="402.60" x2="547.84" y2="402.60" stroke="#000" stroke-width="2.0" /><line x1="569.39" y1="393.80" x2="569.39" y2="415.40" stroke="#000" stroke-width="2.2" /><line x1="566.79" y1="393.80" x2="571.99" y2="393.80" stroke="#000" stroke-width="2.0" /><line x1="566.79" y1="415.40" x2="571.99" y2="415.40" stroke="#000" stroke-width="2.0" /><line x1="583.51" y1="385.60" x2="583.51" y2="407.70" stroke="#000" stroke-width="2.2" /><line x1="580.91" y1="385.60" x2="586.11" y2="385.60" stroke="#000" stroke-width="2.0" /><line x1="580.91" y1="407.70" x2="586.11" y2="407.70" stroke="#000" stroke-width="2.0" /><line x1="593.53" y1="390.30" x2="593.53" y2="407.30" stroke="#000" stroke-width="2.2" /><line x1="590.93" y1="390.30" x2="596.13" y2="390.30" stroke="#000" stroke-width="2.0" /><line x1="590.93" y1="407.30" x2="596.13" y2="407.30" stroke="#000" stroke-width="2.0" /><line x1="601.30" y1="390.90" x2="601.30" y2="408.10" stroke="#000" stroke-width="2.2" /><line x1="598.70" y1="390.90" x2="603.90" y2="390.90" stroke="#000" stroke-width="2.0" /><line x1="598.70" y1="408.10" x2="603.90" y2="408.10" stroke="#000" stroke-width="2.0" /><polyline points="417.20,357.00 440.90,361.00 465.04,353.60 489.19,351.50 503.31,350.40 513.33,360.70 521.10,388.90 545.24,395.80 569.39,404.60 583.51,396.40 593.53,398.50 601.30,399.50 625.44,443.00 649.59,424.60 663.71,390.00 673.73,380.90 681.80,377.40" fill="none" stroke="#000" stroke-width="2.3" stroke-linejoin="round" stroke-dasharray="6.6,2.5,2.4,2.5"/><circle cx="417.20" cy="357.00" r="2.2" fill="none" stroke="#000" stroke-width="2.2"/><circle cx="440.90" cy="361.00" r="2.2" fill="none" stroke="#000" stroke-width="2.2"/><circle cx="465.04" cy="353.60" r="2.2" fill="none" stroke="#000" stroke-width="2.2"/><circle cx="489.19" cy="351.50" r="2.2" fill="none" stroke="#000" stroke-width="2.2"/><circle cx="503.31" cy="350.40" r="2.2" fill="none" stroke="#000" stroke-width="2.2"/><circle cx="513.33" cy="360.70" r="2.2" fill="none" stroke="#000" stroke-width="2.2"/><circle cx="521.10" cy="388.90" r="2.2" fill="none" stroke="#000" stroke-width="2.2"/><circle cx="545.24" cy="395.80" r="2.2" fill="none" stroke="#000" stroke-width="2.2"/><circle cx="569.39" cy="404.60" r="2.2" fill="none" stroke="#000" stroke-width="2.2"/><circle cx="583.51" cy="396.40" r="2.2" fill="none" stroke="#000" stroke-width="2.2"/><circle cx="593.53" cy="398.50" r="2.2" fill="none" stroke="#000" stroke-width="2.2"/><circle cx="601.30" cy="399.50" r="2.2" fill="none" stroke="#000" stroke-width="2.2"/><circle cx="625.44" cy="443.00" r="2.2" fill="none" stroke="#000" stroke-width="2.2"/><circle cx="649.59" cy="424.60" r="2.2" fill="none" stroke="#000" stroke-width="2.2"/><circle cx="663.71" cy="390.00" r="2.2" fill="none" stroke="#000" stroke-width="2.2"/><circle cx="673.73" cy="380.90" r="2.2" fill="none" stroke="#000" stroke-width="2.2"/><circle cx="681.80" cy="377.40" r="2.2" fill="none" stroke="#000" stroke-width="2.2"/>
<line x1="417.20" y1="337.30" x2="417.20" y2="405" stroke="#f00" stroke-width="2.2" /><line x1="414.60" y1="337.30" x2="419.80" y2="337.30" stroke="#f00" stroke-width="2.0" /><line x1="414.60" y1="405" x2="419.80" y2="405" stroke="#f00" stroke-width="2.0" /><line x1="440.90" y1="355.70" x2="440.90" y2="405.60" stroke="#f00" stroke-width="2.2" /><line x1="438.30" y1="355.70" x2="443.50" y2="355.70" stroke="#f00" stroke-width="2.0" /><line x1="438.30" y1="405.60" x2="443.50" y2="405.60" stroke="#f00" stroke-width="2.0" /><line x1="465.04" y1="368.30" x2="465.04" y2="397.70" stroke="#f00" stroke-width="2.2" /><line x1="462.44" y1="368.30" x2="467.64" y2="368.30" stroke="#f00" stroke-width="2.0" /><line x1="462.44" y1="397.70" x2="467.64" y2="397.70" stroke="#f00" stroke-width="2.0" /><line x1="489.19" y1="395.40" x2="489.19" y2="417.50" stroke="#f00" stroke-width="2.2" /><line x1="486.59" y1="395.40" x2="491.79" y2="395.40" stroke="#f00" stroke-width="2.0" /><line x1="486.59" y1="417.50" x2="491.79" y2="417.50" stroke="#f00" stroke-width="2.0" /><line x1="503.31" y1="425.50" x2="503.31" y2="432" stroke="#f00" stroke-width="2.2" /><line x1="500.71" y1="425.50" x2="505.91" y2="425.50" stroke="#f00" stroke-width="2.0" /><line x1="500.71" y1="432" x2="505.91" y2="432" stroke="#f00" stroke-width="2.0" /><line x1="513.33" y1="434" x2="513.33" y2="440.50" stroke="#f00" stroke-width="2.2" /><line x1="510.73" y1="434" x2="515.93" y2="434" stroke="#f00" stroke-width="2.0" /><line x1="510.73" y1="440.50" x2="515.93" y2="440.50" stroke="#f00" stroke-width="2.0" /><line x1="545.24" y1="435.50" x2="545.24" y2="440.50" stroke="#f00" stroke-width="2.2" /><line x1="542.64" y1="435.50" x2="547.84" y2="435.50" stroke="#f00" stroke-width="2.0" /><line x1="542.64" y1="440.50" x2="547.84" y2="440.50" stroke="#f00" stroke-width="2.0" /><line x1="569.39" y1="432.50" x2="569.39" y2="439.30" stroke="#f00" stroke-width="2.2" /><line x1="566.79" y1="432.50" x2="571.99" y2="432.50" stroke="#f00" stroke-width="2.0" /><line x1="566.79" y1="439.30" x2="571.99" y2="439.30" stroke="#f00" stroke-width="2.0" /><polyline points="417.20,371.00 440.90,380.60 465.04,383.30 489.19,406.00 503.31,428.70 513.33,437.30 521.10,432.60 545.24,437.90 569.39,435.90 583.51,439.70 593.53,439.30 601.30,443.40 625.44,442.20 649.59,424.60 663.71,413.30 673.73,397.60 681.80,390.90" fill="none" stroke="#f00" stroke-width="2.3" stroke-linejoin="round" /><circle cx="417.20" cy="371.00" r="2.2" fill="none" stroke="#f00" stroke-width="2.2"/><circle cx="440.90" cy="380.60" r="2.2" fill="none" stroke="#f00" stroke-width="2.2"/><circle cx="465.04" cy="383.30" r="2.2" fill="none" stroke="#f00" stroke-width="2.2"/><circle cx="489.19" cy="406.00" r="2.2" fill="none" stroke="#f00" stroke-width="2.2"/><circle cx="503.31" cy="428.70" r="2.2" fill="none" stroke="#f00" stroke-width="2.2"/><circle cx="513.33" cy="437.30" r="2.2" fill="none" stroke="#f00" stroke-width="2.2"/><circle cx="521.10" cy="432.60" r="2.2" fill="none" stroke="#f00" stroke-width="2.2"/><circle cx="545.24" cy="437.90" r="2.2" fill="none" stroke="#f00" stroke-width="2.2"/><circle cx="569.39" cy="435.90" r="2.2" fill="none" stroke="#f00" stroke-width="2.2"/><circle cx="583.51" cy="439.70" r="2.2" fill="none" stroke="#f00" stroke-width="2.2"/><circle cx="593.53" cy="439.30" r="2.2" fill="none" stroke="#f00" stroke-width="2.2"/><circle cx="601.30" cy="443.40" r="2.2" fill="none" stroke="#f00" stroke-width="2.2"/><circle cx="625.44" cy="442.20" r="2.2" fill="none" stroke="#f00" stroke-width="2.2"/><circle cx="649.59" cy="424.60" r="2.2" fill="none" stroke="#f00" stroke-width="2.2"/><circle cx="663.71" cy="413.30" r="2.2" fill="none" stroke="#f00" stroke-width="2.2"/><circle cx="673.73" cy="397.60" r="2.2" fill="none" stroke="#f00" stroke-width="2.2"/><circle cx="681.80" cy="390.90" r="2.2" fill="none" stroke="#f00" stroke-width="2.2"/>
<text x="426.68" y="472.60" font-family="Liberation Sans" font-size="16" fill="#262626" textLength="18.02" lengthAdjust="spacingAndGlyphs" >10</text>
<text x="444.22" y="464.90" font-family="Liberation Sans" font-size="12" fill="#262626" textLength="11.41" lengthAdjust="spacingAndGlyphs" >-2</text>
<text x="588.49" y="472.60" font-family="Liberation Sans" font-size="16" fill="#262626" textLength="19.47" lengthAdjust="spacingAndGlyphs" >10</text>
<text x="607.69" y="464.90" font-family="Liberation Sans" font-size="12" fill="#262626" textLength="7.07" lengthAdjust="spacingAndGlyphs" >0</text>
<text x="486.41" y="491.70" font-family="Liberation Serif" font-size="17.2" fill="#262626" textLength="125.76" lengthAdjust="spacingAndGlyphs" >Pressure (mbar)</text>
<g transform="translate(379.6,258.5) rotate(-90)"><text x="0.17" y="0.00" font-family="Liberation Serif" font-size="18" font-style="italic" fill="#262626" textLength="10.36" lengthAdjust="spacingAndGlyphs" >σ</text><text x="11.30" y="2.60" font-family="Liberation Serif" font-size="12.5" font-style="italic" fill="#262626" textLength="2.74" lengthAdjust="spacingAndGlyphs" >f</text><text x="23.98" y="0.40" font-family="Liberation Serif" font-size="20.5" fill="#262626" textLength="5.35" lengthAdjust="spacingAndGlyphs" >(</text><text x="29.55" y="0.00" font-family="Liberation Serif" font-size="18" fill="#262626" textLength="29.50" lengthAdjust="spacingAndGlyphs" >kHz</text><text x="60.02" y="0.40" font-family="Liberation Serif" font-size="20.5" fill="#262626" textLength="5.38" lengthAdjust="spacingAndGlyphs" >)</text></g>
<text x="422.81" y="127.80" font-family="Liberation Serif" font-size="17" fill="#262626" textLength="9.38" lengthAdjust="spacingAndGlyphs" >x</text>
<text x="422.81" y="281.30" font-family="Liberation Serif" font-size="17" fill="#262626" textLength="9.28" lengthAdjust="spacingAndGlyphs" >y</text>
<text x="423.30" y="433.70" font-family="Liberation Serif" font-size="17" fill="#262626" textLength="7.17" lengthAdjust="spacingAndGlyphs" >z</text>
<text x="666.11" y="442.50" font-family="Liberation Sans" font-size="21" font-weight="bold" fill="#000" textLength="9.63" lengthAdjust="spacingAndGlyphs" stroke="#000" stroke-width="0.6">c</text>
<line x1="579.90" y1="22.60" x2="588.00" y2="22.60" stroke="#000" stroke-width="2.2" /><line x1="597.40" y1="22.60" x2="603.80" y2="22.60" stroke="#000" stroke-width="2.2" /><line x1="592.60" y1="15.40" x2="592.60" y2="28.80" stroke="#000" stroke-width="1.9" /><line x1="590.10" y1="15.40" x2="595.10" y2="15.40" stroke="#000" stroke-width="1.9" /><line x1="590.10" y1="28.80" x2="595.10" y2="28.80" stroke="#000" stroke-width="1.9" /><circle cx="592.6" cy="22.6" r="2.4" fill="#000" stroke="#000" stroke-width="1.6"/>
<line x1="579.90" y1="40.20" x2="603.80" y2="40.20" stroke="#f00" stroke-width="2.0" /><line x1="592.60" y1="33.00" x2="592.60" y2="46.40" stroke="#f00" stroke-width="1.9" /><line x1="590.10" y1="33.00" x2="595.10" y2="33.00" stroke="#f00" stroke-width="1.9" /><line x1="590.10" y1="46.40" x2="595.10" y2="46.40" stroke="#f00" stroke-width="1.9" /><circle cx="592.6" cy="40.2" r="2.4" fill="#f00" stroke="#f00" stroke-width="1.6"/>
<text x="606.90" y="26.40" font-family="Liberation Serif" font-size="15.5" fill="#000" textLength="51.81" lengthAdjust="spacingAndGlyphs" >Uniform</text>
<text x="606.58" y="43.60" font-family="Liberation Serif" font-size="15.5" fill="#000" textLength="65.49" lengthAdjust="spacingAndGlyphs" >Optimized</text>
<rect x="63.7" y="515.8" width="611.6999999999999" height="204.80000000000007" fill="none" stroke="#262626" stroke-width="2.1"/>
<line x1="74.34" y1="720.60" x2="74.34" y2="717.60" stroke="#262626" stroke-width="2.1" /><line x1="74.34" y1="515.80" x2="74.34" y2="518.80" stroke="#262626" stroke-width="2.1" />
<line x1="84.98" y1="720.60" x2="84.98" y2="717.60" stroke="#262626" stroke-width="2.1" /><line x1="84.98" y1="515.80" x2="84.98" y2="518.80" stroke="#262626" stroke-width="2.1" />
<line x1="95.62" y1="720.60" x2="95.62" y2="717.60" stroke="#262626" stroke-width="2.1" /><line x1="95.62" y1="515.80" x2="95.62" y2="518.80" stroke="#262626" stroke-width="2.1" />
<line x1="106.26" y1="720.60" x2="106.26" y2="717.60" stroke="#262626" stroke-width="2.1" /><line x1="106.26" y1="515.80" x2="106.26" y2="518.80" stroke="#262626" stroke-width="2.1" />
<line x1="116.90" y1="720.60" x2="116.90" y2="715.10" stroke="#262626" stroke-width="2.1" /><line x1="116.90" y1="515.80" x2="116.90" y2="521.30" stroke="#262626" stroke-width="2.1" />
<line x1="127.44" y1="720.60" x2="127.44" y2="717.60" stroke="#262626" stroke-width="2.1" /><line x1="127.44" y1="515.80" x2="127.44" y2="518.80" stroke="#262626" stroke-width="2.1" />
<line x1="137.98" y1="720.60" x2="137.98" y2="717.60" stroke="#262626" stroke-width="2.1" /><line x1="137.98" y1="515.80" x2="137.98" y2="518.80" stroke="#262626" stroke-width="2.1" />
<line x1="148.52" y1="720.60" x2="148.52" y2="717.60" stroke="#262626" stroke-width="2.1" /><line x1="148.52" y1="515.80" x2="148.52" y2="518.80" stroke="#262626" stroke-width="2.1" />
<line x1="159.06" y1="720.60" x2="159.06" y2="717.60" stroke="#262626" stroke-width="2.1" /><line x1="159.06" y1="515.80" x2="159.06" y2="518.80" stroke="#262626" stroke-width="2.1" />
<line x1="169.60" y1="720.60" x2="169.60" y2="715.10" stroke="#262626" stroke-width="2.1" /><line x1="169.60" y1="515.80" x2="169.60" y2="521.30" stroke="#262626" stroke-width="2.1" />
<line x1="180.02" y1="720.60" x2="180.02" y2="717.60" stroke="#262626" stroke-width="2.1" /><line x1="180.02" y1="515.80" x2="180.02" y2="518.80" stroke="#262626" stroke-width="2.1" />
<line x1="190.44" y1="720.60" x2="190.44" y2="717.60" stroke="#262626" stroke-width="2.1" /><line x1="190.44" y1="515.80" x2="190.44" y2="518.80" stroke="#262626" stroke-width="2.1" />
<line x1="200.86" y1="720.60" x2="200.86" y2="717.60" stroke="#262626" stroke-width="2.1" /><line x1="200.86" y1="515.80" x2="200.86" y2="518.80" stroke="#262626" stroke-width="2.1" />
<line x1="211.28" y1="720.60" x2="211.28" y2="717.60" stroke="#262626" stroke-width="2.1" /><line x1="211.28" y1="515.80" x2="211.28" y2="518.80" stroke="#262626" stroke-width="2.1" />
<line x1="221.70" y1="720.60" x2="221.70" y2="715.10" stroke="#262626" stroke-width="2.1" /><line x1="221.70" y1="515.80" x2="221.70" y2="521.30" stroke="#262626" stroke-width="2.1" />
<line x1="232.16" y1="720.60" x2="232.16" y2="717.60" stroke="#262626" stroke-width="2.1" /><line x1="232.16" y1="515.80" x2="232.16" y2="518.80" stroke="#262626" stroke-width="2.1" />
<line x1="242.62" y1="720.60" x2="242.62" y2="717.60" stroke="#262626" stroke-width="2.1" /><line x1="242.62" y1="515.80" x2="242.62" y2="518.80" stroke="#262626" stroke-width="2.1" />
<line x1="253.08" y1="720.60" x2="253.08" y2="717.60" stroke="#262626" stroke-width="2.1" /><line x1="253.08" y1="515.80" x2="253.08" y2="518.80" stroke="#262626" stroke-width="2.1" />
<line x1="263.54" y1="720.60" x2="263.54" y2="717.60" stroke="#262626" stroke-width="2.1" /><line x1="263.54" y1="515.80" x2="263.54" y2="518.80" stroke="#262626" stroke-width="2.1" />
<line x1="274.00" y1="720.60" x2="274.00" y2="715.10" stroke="#262626" stroke-width="2.1" /><line x1="274.00" y1="515.80" x2="274.00" y2="521.30" stroke="#262626" stroke-width="2.1" />
<line x1="284.40" y1="720.60" x2="284.40" y2="717.60" stroke="#262626" stroke-width="2.1" /><line x1="284.40" y1="515.80" x2="284.40" y2="518.80" stroke="#262626" stroke-width="2.1" />
<line x1="294.80" y1="720.60" x2="294.80" y2="717.60" stroke="#262626" stroke-width="2.1" /><line x1="294.80" y1="515.80" x2="294.80" y2="518.80" stroke="#262626" stroke-width="2.1" />
<line x1="305.20" y1="720.60" x2="305.20" y2="717.60" stroke="#262626" stroke-width="2.1" /><line x1="305.20" y1="515.80" x2="305.20" y2="518.80" stroke="#262626" stroke-width="2.1" />
<line x1="315.60" y1="720.60" x2="315.60" y2="717.60" stroke="#262626" stroke-width="2.1" /><line x1="315.60" y1="515.80" x2="315.60" y2="518.80" stroke="#262626" stroke-width="2.1" />
<line x1="326.00" y1="720.60" x2="326.00" y2="715.10" stroke="#262626" stroke-width="2.1" /><line x1="326.00" y1="515.80" x2="326.00" y2="521.30" stroke="#262626" stroke-width="2.1" />
<line x1="336.26" y1="720.60" x2="336.26" y2="717.60" stroke="#262626" stroke-width="2.1" /><line x1="336.26" y1="515.80" x2="336.26" y2="518.80" stroke="#262626" stroke-width="2.1" />
<line x1="346.52" y1="720.60" x2="346.52" y2="717.60" stroke="#262626" stroke-width="2.1" /><line x1="346.52" y1="515.80" x2="346.52" y2="518.80" stroke="#262626" stroke-width="2.1" />
<line x1="356.78" y1="720.60" x2="356.78" y2="717.60" stroke="#262626" stroke-width="2.1" /><line x1="356.78" y1="515.80" x2="356.78" y2="518.80" stroke="#262626" stroke-width="2.1" />
<line x1="367.04" y1="720.60" x2="367.04" y2="717.60" stroke="#262626" stroke-width="2.1" /><line x1="367.04" y1="515.80" x2="367.04" y2="518.80" stroke="#262626" stroke-width="2.1" />
<line x1="377.30" y1="720.60" x2="377.30" y2="715.10" stroke="#262626" stroke-width="2.1" /><line x1="377.30" y1="515.80" x2="377.30" y2="521.30" stroke="#262626" stroke-width="2.1" />
<line x1="387.40" y1="720.60" x2="387.40" y2="717.60" stroke="#262626" stroke-width="2.1" /><line x1="387.40" y1="515.80" x2="387.40" y2="518.80" stroke="#262626" stroke-width="2.1" />
<line x1="397.50" y1="720.60" x2="397.50" y2="717.60" stroke="#262626" stroke-width="2.1" /><line x1="397.50" y1="515.80" x2="397.50" y2="518.80" stroke="#262626" stroke-width="2.1" />
<line x1="407.60" y1="720.60" x2="407.60" y2="717.60" stroke="#262626" stroke-width="2.1" /><line x1="407.60" y1="515.80" x2="407.60" y2="518.80" stroke="#262626" stroke-width="2.1" />
<line x1="417.70" y1="720.60" x2="417.70" y2="717.60" stroke="#262626" stroke-width="2.1" /><line x1="417.70" y1="515.80" x2="417.70" y2="518.80" stroke="#262626" stroke-width="2.1" />
<line x1="427.80" y1="720.60" x2="427.80" y2="715.10" stroke="#262626" stroke-width="2.1" /><line x1="427.80" y1="515.80" x2="427.80" y2="521.30" stroke="#262626" stroke-width="2.1" />
<line x1="437.76" y1="720.60" x2="437.76" y2="717.60" stroke="#262626" stroke-width="2.1" /><line x1="437.76" y1="515.80" x2="437.76" y2="518.80" stroke="#262626" stroke-width="2.1" />
<line x1="447.72" y1="720.60" x2="447.72" y2="717.60" stroke="#262626" stroke-width="2.1" /><line x1="447.72" y1="515.80" x2="447.72" y2="518.80" stroke="#262626" stroke-width="2.1" />
<line x1="457.68" y1="720.60" x2="457.68" y2="717.60" stroke="#262626" stroke-width="2.1" /><line x1="457.68" y1="515.80" x2="457.68" y2="518.80" stroke="#262626" stroke-width="2.1" />
<line x1="467.64" y1="720.60" x2="467.64" y2="717.60" stroke="#262626" stroke-width="2.1" /><line x1="467.64" y1="515.80" x2="467.64" y2="518.80" stroke="#262626" stroke-width="2.1" />
<line x1="477.60" y1="720.60" x2="477.60" y2="715.10" stroke="#262626" stroke-width="2.1" /><line x1="477.60" y1="515.80" x2="477.60" y2="521.30" stroke="#262626" stroke-width="2.1" />
<line x1="487.68" y1="720.60" x2="487.68" y2="717.60" stroke="#262626" stroke-width="2.1" /><line x1="487.68" y1="515.80" x2="487.68" y2="518.80" stroke="#262626" stroke-width="2.1" />
<line x1="497.76" y1="720.60" x2="497.76" y2="717.60" stroke="#262626" stroke-width="2.1" /><line x1="497.76" y1="515.80" x2="497.76" y2="518.80" stroke="#262626" stroke-width="2.1" />
<line x1="507.84" y1="720.60" x2="507.84" y2="717.60" stroke="#262626" stroke-width="2.1" /><line x1="507.84" y1="515.80" x2="507.84" y2="518.80" stroke="#262626" stroke-width="2.1" />
<line x1="517.92" y1="720.60" x2="517.92" y2="717.60" stroke="#262626" stroke-width="2.1" /><line x1="517.92" y1="515.80" x2="517.92" y2="518.80" stroke="#262626" stroke-width="2.1" />
<line x1="528.00" y1="720.60" x2="528.00" y2="715.10" stroke="#262626" stroke-width="2.1" /><line x1="528.00" y1="515.80" x2="528.00" y2="521.30" stroke="#262626" stroke-width="2.1" />
<line x1="537.98" y1="720.60" x2="537.98" y2="717.60" stroke="#262626" stroke-width="2.1" /><line x1="537.98" y1="515.80" x2="537.98" y2="518.80" stroke="#262626" stroke-width="2.1" />
<line x1="547.96" y1="720.60" x2="547.96" y2="717.60" stroke="#262626" stroke-width="2.1" /><line x1="547.96" y1="515.80" x2="547.96" y2="518.80" stroke="#262626" stroke-width="2.1" />
<line x1="557.94" y1="720.60" x2="557.94" y2="717.60" stroke="#262626" stroke-width="2.1" /><line x1="557.94" y1="515.80" x2="557.94" y2="518.80" stroke="#262626" stroke-width="2.1" />
<line x1="567.92" y1="720.60" x2="567.92" y2="717.60" stroke="#262626" stroke-width="2.1" /><line x1="567.92" y1="515.80" x2="567.92" y2="518.80" stroke="#262626" stroke-width="2.1" />
<line x1="577.90" y1="720.60" x2="577.90" y2="715.10" stroke="#262626" stroke-width="2.1" /><line x1="577.90" y1="515.80" x2="577.90" y2="521.30" stroke="#262626" stroke-width="2.1" />
<line x1="587.76" y1="720.60" x2="587.76" y2="717.60" stroke="#262626" stroke-width="2.1" /><line x1="587.76" y1="515.80" x2="587.76" y2="518.80" stroke="#262626" stroke-width="2.1" />
<line x1="597.62" y1="720.60" x2="597.62" y2="717.60" stroke="#262626" stroke-width="2.1" /><line x1="597.62" y1="515.80" x2="597.62" y2="518.80" stroke="#262626" stroke-width="2.1" />
<line x1="607.48" y1="720.60" x2="607.48" y2="717.60" stroke="#262626" stroke-width="2.1" /><line x1="607.48" y1="515.80" x2="607.48" y2="518.80" stroke="#262626" stroke-width="2.1" />
<line x1="617.34" y1="720.60" x2="617.34" y2="717.60" stroke="#262626" stroke-width="2.1" /><line x1="617.34" y1="515.80" x2="617.34" y2="518.80" stroke="#262626" stroke-width="2.1" />
<line x1="627.20" y1="720.60" x2="627.20" y2="715.10" stroke="#262626" stroke-width="2.1" /><line x1="627.20" y1="515.80" x2="627.20" y2="521.30" stroke="#262626" stroke-width="2.1" />
<line x1="636.84" y1="720.60" x2="636.84" y2="717.60" stroke="#262626" stroke-width="2.1" /><line x1="636.84" y1="515.80" x2="636.84" y2="518.80" stroke="#262626" stroke-width="2.1" />
<line x1="646.48" y1="720.60" x2="646.48" y2="717.60" stroke="#262626" stroke-width="2.1" /><line x1="646.48" y1="515.80" x2="646.48" y2="518.80" stroke="#262626" stroke-width="2.1" />
<line x1="656.12" y1="720.60" x2="656.12" y2="717.60" stroke="#262626" stroke-width="2.1" /><line x1="656.12" y1="515.80" x2="656.12" y2="518.80" stroke="#262626" stroke-width="2.1" />
<line x1="665.76" y1="720.60" x2="665.76" y2="717.60" stroke="#262626" stroke-width="2.1" /><line x1="665.76" y1="515.80" x2="665.76" y2="518.80" stroke="#262626" stroke-width="2.1" />
<line x1="63.70" y1="530.00" x2="69.20" y2="530.00" stroke="#262626" stroke-width="2.1" /><line x1="675.40" y1="530.00" x2="669.90" y2="530.00" stroke="#262626" stroke-width="2.1" />
<line x1="63.70" y1="562.10" x2="66.70" y2="562.10" stroke="#262626" stroke-width="2.1" /><line x1="675.40" y1="562.10" x2="672.40" y2="562.10" stroke="#262626" stroke-width="2.1" />
<line x1="63.70" y1="594.20" x2="66.70" y2="594.20" stroke="#262626" stroke-width="2.1" /><line x1="675.40" y1="594.20" x2="672.40" y2="594.20" stroke="#262626" stroke-width="2.1" />
<line x1="63.70" y1="626.30" x2="66.70" y2="626.30" stroke="#262626" stroke-width="2.1" /><line x1="675.40" y1="626.30" x2="672.40" y2="626.30" stroke="#262626" stroke-width="2.1" />
<line x1="63.70" y1="658.40" x2="66.70" y2="658.40" stroke="#262626" stroke-width="2.1" /><line x1="675.40" y1="658.40" x2="672.40" y2="658.40" stroke="#262626" stroke-width="2.1" />
<line x1="63.70" y1="690.50" x2="69.20" y2="690.50" stroke="#262626" stroke-width="2.1" /><line x1="675.40" y1="690.50" x2="669.90" y2="690.50" stroke="#262626" stroke-width="2.1" />
<text x="116.90" y="744.0" font-family="Liberation Sans" font-size="16" fill="#262626" text-anchor="middle" textLength="28.03" lengthAdjust="spacingAndGlyphs">120</text>
<text x="169.60" y="744.0" font-family="Liberation Sans" font-size="16" fill="#262626" text-anchor="middle" textLength="28.03" lengthAdjust="spacingAndGlyphs">121</text>
<text x="221.70" y="744.0" font-family="Liberation Sans" font-size="16" fill="#262626" text-anchor="middle" textLength="28.03" lengthAdjust="spacingAndGlyphs">122</text>
<text x="274.00" y="744.0" font-family="Liberation Sans" font-size="16" fill="#262626" text-anchor="middle" textLength="28.03" lengthAdjust="spacingAndGlyphs">123</text>
<text x="326.00" y="744.0" font-family="Liberation Sans" font-size="16" fill="#262626" text-anchor="middle" textLength="28.03" lengthAdjust="spacingAndGlyphs">124</text>
<text x="377.30" y="744.0" font-family="Liberation Sans" font-size="16" fill="#262626" text-anchor="middle" textLength="28.03" lengthAdjust="spacingAndGlyphs">125</text>
<text x="427.80" y="744.0" font-family="Liberation Sans" font-size="16" fill="#262626" text-anchor="middle" textLength="28.03" lengthAdjust="spacingAndGlyphs">126</text>
<text x="477.60" y="744.0" font-family="Liberation Sans" font-size="16" fill="#262626" text-anchor="middle" textLength="28.03" lengthAdjust="spacingAndGlyphs">127</text>
<text x="528.00" y="744.0" font-family="Liberation Sans" font-size="16" fill="#262626" text-anchor="middle" textLength="28.03" lengthAdjust="spacingAndGlyphs">128</text>
<text x="577.90" y="744.0" font-family="Liberation Sans" font-size="16" fill="#262626" text-anchor="middle" textLength="28.03" lengthAdjust="spacingAndGlyphs">129</text>
<text x="627.20" y="744.0" font-family="Liberation Sans" font-size="16" fill="#262626" text-anchor="middle" textLength="28.03" lengthAdjust="spacingAndGlyphs">130</text>
<text x="30.86" y="540.30" font-family="Liberation Sans" font-size="16" fill="#262626" textLength="19.91" lengthAdjust="spacingAndGlyphs" >10</text>
<text x="50.63" y="531.80" font-family="Liberation Sans" font-size="12" fill="#262626" textLength="6.49" lengthAdjust="spacingAndGlyphs" >0</text>
<text x="26.26" y="700.50" font-family="Liberation Sans" font-size="16" fill="#262626" textLength="19.91" lengthAdjust="spacingAndGlyphs" >10</text>
<text x="45.37" y="692.00" font-family="Liberation Sans" font-size="12" fill="#262626" textLength="12.37" lengthAdjust="spacingAndGlyphs" >-5</text>
<clipPath id="cpB"><rect x="63.7" y="515.8" width="611.6999999999999" height="204.80000000000007"/></clipPath>
<g clip-path="url(#cpB)">
<polyline points="63.5,665.8 75.3,653.2 85.5,662.8 95.8,697.5 107.4,679.5 117.2,680.6 127.9,663.8 138.7,709.8 148.9,717.3 159.5,681.2 170.0,669.5 181.0,690.0 190.6,674.5 200.5,707.8 211.5,679.3 223.0,665.1 233.0,670.6 243.5,719.8 254.0,670.6 264.5,655.2 275.0,654.2 285.0,661.8 295.5,705.6 306.0,678.2 316.0,687.0 326.5,639.9 336.6,664.7 346.4,667.7 356.7,658.1 366.8,667.3 377.1,678.2 387.4,661.8 397.4,652.0 407.7,642.1 418.0,677.1 428.1,652.0 438.4,642.1 448.2,656.8 458.5,630.5 468.4,676.5 478.5,667.0 488.6,631.5 498.7,627.4 508.2,626.0 518.6,620.5 527.9,619.7 538.0,624.6 548.4,608.0 558.1,526.9 567.7,574.0 577.7,636.0 587.9,634.3 597.5,604.5 607.4,631.5 617.7,632.0 627.2,621.2 636.8,644.9 646.3,642.2 655.8,640.8 665.9,668.0" fill="none" stroke="#fa6432" stroke-width="1.8" stroke-linejoin="round" stroke-dasharray="5.6,1.5,2.4,1.5"/>
<polyline points="63.5,643.9 75.3,647.0 84.9,652.1 96.4,642.9 106.6,648.0 117.2,653.5 128.1,640.5 138.7,651.5 149.3,648.6 159.5,650.0 170.0,640.5 180.6,636.8 190.8,634.7 201.0,630.1 211.9,631.2 222.8,628.3 232.7,634.9 243.2,642.1 253.5,636.0 264.0,629.4 274.3,638.2 284.8,648.0 295.1,625.0 305.6,634.9 316.3,623.9 326.9,627.2 336.6,625.7 346.4,617.4 356.7,623.5 366.8,607.1 377.1,618.0 387.4,610.8 397.4,616.5 407.7,607.1 418.0,605.5 428.1,597.2 438.4,588.0 448.2,589.6 458.5,581.9 468.4,581.9 478.5,566.5 487.7,561.9 498.7,560.5 509.0,514.0 518.6,548.2 527.9,579.6 538.2,595.0 548.6,605.4 558.4,587.5 568.0,598.5 577.9,602.0 587.8,601.5 597.3,622.3 607.4,612.7 617.7,621.7 627.2,613.5 636.8,616.3 646.3,631.3 655.8,634.8 665.9,627.7" fill="none" stroke="#ebb026" stroke-width="1.8" stroke-linejoin="round" stroke-dasharray="5.6,1.5,2.4,1.5"/>
<polyline points="63.7,648.9 65.2,658.3 66.7,656.8 68.2,643.3 69.7,644.5 71.2,642.4 72.7,650.3 74.2,645.5 75.7,651.3 77.2,632.0 78.7,657.3 80.2,644.8 81.7,650.3 83.2,643.9 84.7,641.6 86.2,647.2 87.7,649.1 89.2,640.9 90.7,640.5 92.2,646.0 93.7,634.0 95.2,628.8 96.7,642.4 98.2,634.2 99.7,624.6 101.2,632.5 102.7,634.7 104.2,629.1 105.7,626.4 107.2,637.0 108.7,642.6 110.2,633.9 111.7,629.8 113.2,637.7 114.7,639.8 116.2,632.3 117.7,638.3 119.2,641.7 120.7,632.5 122.2,628.0 123.7,636.0 125.2,635.0 126.7,640.8 128.2,623.4 129.7,627.6 131.2,626.0 132.7,619.4 134.2,632.3 135.7,634.8 137.2,625.6 138.7,640.4 140.2,636.2 141.7,634.6 143.2,632.8 144.7,636.6 146.2,620.5 147.7,634.2 149.2,634.1 150.7,617.5 152.2,632.3 153.7,628.1 155.2,635.2 156.7,626.5 158.2,629.2 159.7,631.5 161.2,622.5 162.7,632.1 164.2,626.7 165.7,630.3 167.2,622.8 168.7,633.6 170.2,630.1 171.7,624.8 173.2,630.6 174.7,635.3 176.2,639.3 177.7,616.4 179.2,633.3 180.7,630.3 182.2,626.2 183.7,619.4 185.2,634.1 186.7,616.0 188.2,627.6 189.7,631.7 190.0,611.3 190.5,619.6 191.0,612.8 191.5,621.9 192.0,629.2 192.5,631.8 193.0,607.7 193.5,614.8 194.0,622.5 194.5,627.8 195.0,620.7 195.5,613.6 196.0,620.3 196.5,618.6 197.0,617.7 197.5,614.5 198.0,621.4 198.5,620.8 199.0,618.1 199.5,617.0 200.0,610.1 200.5,614.8 201.0,625.0 201.5,616.3 202.0,608.5 202.5,625.4 203.0,620.6 203.5,633.0 204.0,638.0 204.5,615.6 205.0,610.2 205.5,628.0 206.0,636.5 206.5,616.5 207.0,618.3 207.5,626.5 208.0,618.1 208.5,621.6 209.0,620.9 209.5,623.7 210.0,628.6 210.5,621.2 211.0,625.7 211.5,616.7 212.0,620.6 212.5,605.0 213.0,608.8 213.5,622.2 214.0,613.5 214.5,620.4 215.0,619.9 215.5,624.3 216.0,620.9 216.5,621.8 217.0,614.7 217.5,610.8 218.0,610.4 218.5,611.8 219.0,607.9 219.5,611.4 220.0,614.3 220.5,616.4 221.0,612.8 221.5,603.1 222.0,614.0 222.5,615.5 223.0,620.3 223.5,617.0 224.0,622.3 224.5,648.0 225.0,625.5 225.5,618.3 226.0,625.1 226.5,627.4 227.0,610.2 227.5,617.9 228.0,618.7 228.5,619.6 229.0,619.6 229.5,617.5 230.0,617.1 230.5,606.8 231.0,614.4 231.5,610.6 232.0,615.4 232.5,611.6 233.0,618.0 233.5,619.2 234.0,616.4 234.5,616.9 235.0,616.1 235.5,613.6 236.0,615.8 236.5,614.4 237.0,620.0 237.5,617.9 238.0,621.3 238.5,609.8 239.0,622.6 239.5,612.5 240.0,612.3 240.5,615.2 241.0,612.9 241.5,617.9 242.0,612.8 242.5,610.0 243.0,611.5 243.5,624.6 244.0,617.4 244.5,610.6 245.0,617.9 245.5,609.1 246.0,629.2 246.5,610.0 247.0,622.1 247.5,622.6 248.0,610.8 248.5,620.8 249.0,624.5 249.5,620.7 250.0,618.7 250.5,621.9 251.0,616.4 251.5,616.6 252.0,613.2 252.5,617.1 253.0,607.6 253.5,617.6 254.0,610.1 254.5,606.9 255.0,615.7 255.5,623.7 256.0,619.6 256.5,611.1 257.0,618.1 257.5,611.2 258.0,612.9 258.5,614.0 259.0,599.9 259.5,614.6 260.0,607.6 260.5,609.8 261.0,605.5 261.5,605.5 262.0,609.0 262.5,619.3 263.0,624.1 263.5,614.2 264.0,620.5 264.5,612.5 265.0,602.8 265.5,614.6 266.0,616.1 266.5,610.8 267.0,614.8 267.5,616.0 268.0,607.3 268.5,603.5 269.0,610.5 269.5,610.4 270.0,609.6 270.5,617.5 271.0,622.1 271.5,610.2 272.0,617.1 272.5,619.0 273.0,618.1 273.5,620.4 274.0,612.4 274.5,619.0 275.0,626.4 275.5,619.4 276.0,611.0 276.5,617.8 277.0,621.1 277.5,615.5 278.0,609.7 278.5,621.3 279.0,605.0 279.5,614.9 280.0,611.9 280.5,605.2 281.0,619.1 281.5,614.3 282.0,605.8 282.5,615.9 283.0,610.0 283.5,601.6 284.0,608.4 284.5,613.6 285.0,615.5 285.5,612.6 286.0,611.7 286.5,613.9 287.0,610.0 287.5,617.9 288.0,612.3 288.5,613.4 289.0,615.2 289.5,606.7 290.0,609.1 290.5,622.2 291.0,615.8 291.5,612.5 292.0,616.2 292.5,611.6 293.0,615.9 293.5,610.6 294.0,615.9 294.5,605.4 295.0,621.8 295.5,610.6 296.0,603.9 296.5,610.9 297.0,609.5 297.5,612.0 298.0,604.3 298.5,612.6 299.0,630.3 299.5,602.4 300.0,610.9 300.5,607.2 301.0,609.8 301.5,598.4 302.0,601.7 302.5,610.2 303.0,607.0 303.5,615.8 304.0,602.8 304.5,607.6 305.0,622.7 305.5,603.0 306.0,602.8 306.5,608.0 307.0,608.3 307.5,613.3 308.0,609.4 308.5,604.3 309.0,608.8 309.5,620.7 310.0,612.4 310.5,590.0 311.0,602.7 311.5,597.9 312.0,604.9 312.5,600.3 313.0,610.9 313.5,605.8 314.0,605.7 314.5,602.4 315.0,601.7 315.5,604.0 316.0,609.1 316.5,605.4 317.0,600.9 317.5,609.0 318.0,603.3 318.5,601.7 319.0,597.8 319.5,598.7 320.0,598.1 320.5,587.3 321.0,605.8 321.5,603.4 322.0,599.4 322.5,605.3 323.0,602.0 323.5,601.3 324.0,587.2 324.5,597.4 325.0,600.4 325.5,605.0 326.0,605.5 326.5,603.0 327.0,590.6 327.5,585.6 328.0,598.7 328.5,596.4 329.0,601.2 329.5,596.6 330.0,598.7 330.5,591.1 331.0,600.3 331.5,596.4 332.0,600.1 332.5,600.7 333.0,598.1 333.5,600.0 334.0,598.3 334.5,601.4 335.0,599.7 335.5,594.2 336.0,593.2 336.5,602.8 337.0,593.5 337.5,597.5 338.0,594.0 338.5,589.0 339.0,587.7 339.5,591.2 340.0,591.5 340.5,592.8 341.0,584.1 341.5,586.8 342.0,588.8 342.5,596.2 343.0,578.2 343.5,590.3 344.0,585.6 344.5,589.4 345.0,584.7 345.5,588.3 346.0,593.3 346.5,587.6 347.0,587.6 347.5,587.1 348.0,582.0 348.5,587.6 349.0,584.3 349.5,581.7 350.0,585.1 350.5,584.8 351.0,589.5 351.5,586.4 352.0,584.5 352.5,593.5 353.0,591.6 353.5,593.1 354.0,590.5 354.5,587.8 355.0,586.9 355.5,587.2 356.0,592.3 356.5,588.5 357.0,581.3 357.5,587.2 358.0,580.9 358.5,587.4 359.0,581.3 359.5,580.8 360.0,586.5 360.5,585.8 361.0,579.0 361.5,589.2 362.0,595.0 362.5,579.1 363.0,592.7 363.5,581.5 364.0,581.9 364.5,582.9 365.0,577.3 365.5,588.9 366.0,585.6 366.5,580.5 367.0,582.8 367.5,577.8 368.0,583.1 368.5,588.8 369.0,578.0 369.5,583.8 370.0,586.5 370.5,590.4 371.0,591.7 371.5,584.0 372.0,582.6 372.5,587.2 373.0,583.4 373.5,583.2 374.0,588.4 374.5,590.5 375.0,584.2 375.5,582.1 376.0,585.2 376.5,575.2 377.0,583.1 377.5,579.1 378.0,593.6 378.5,587.0 379.0,584.9 379.5,583.7 380.0,574.3 380.5,587.6 381.0,591.2 381.5,581.3 382.0,586.8 382.5,586.5 383.0,576.7 383.5,586.3 384.0,587.5 384.5,582.4 385.0,580.7 385.5,583.7 386.0,573.8 386.5,580.0 387.0,583.4 387.5,573.8 388.0,582.5 388.5,576.7 389.0,569.9 389.5,577.9 390.0,574.6 390.5,579.9 391.0,574.3 391.5,583.4 392.0,576.6 392.5,581.3 393.0,577.8 393.5,579.2 394.0,585.5 394.5,581.9 395.0,579.7 395.5,576.4 396.0,585.9 396.5,584.2 397.0,579.9 397.5,581.9 398.0,576.7 398.5,576.5 399.0,577.0 399.5,581.3 400.0,580.8 400.5,576.3 401.0,581.7 401.5,581.5 402.0,578.8 402.5,581.8 403.0,576.4 403.5,576.9 404.0,579.0 404.5,577.0 405.0,580.2 405.5,572.4 406.0,582.7 406.5,574.3 407.0,576.7 407.5,572.0 408.0,579.5 408.5,581.9 409.0,581.0 409.5,579.8 410.0,570.5 410.5,573.3 411.0,574.4 411.5,572.5 412.0,580.2 412.5,576.6 413.0,575.7 413.5,577.6 414.0,572.0 414.5,572.0 415.0,571.9 415.5,577.0 416.0,576.2 416.5,576.9 417.0,578.7 417.5,569.4 418.0,572.4 418.5,575.1 419.0,569.6 419.5,572.8 420.0,578.7 420.5,579.1 421.0,579.0 421.5,575.1 422.0,574.2 422.5,579.0 423.0,573.6 423.5,576.3 424.0,580.1 424.5,573.9 425.0,573.1 425.5,575.4 426.0,577.7 426.5,577.2 427.0,575.9 427.5,577.2 428.0,569.0 428.5,571.5 429.0,574.9 429.5,570.6 430.0,568.7 430.5,569.0 431.0,569.8 431.5,572.4 432.0,569.1 432.5,573.6 433.0,578.9 433.5,572.0 434.0,577.1 434.5,573.3 435.0,567.9 435.5,570.9 436.0,568.0 436.5,574.1 437.0,566.9 437.5,575.6 438.0,572.7 438.5,563.2 439.0,573.3 439.5,576.0 440.0,567.5 440.5,573.9 441.0,563.8 441.5,571.1 442.0,564.2 442.5,571.8 443.0,563.5 443.5,560.4 444.0,571.3 444.5,578.0 445.0,567.6 445.5,572.6 446.0,569.9 446.5,568.2 447.0,571.4 447.5,574.8 448.0,564.4 448.5,570.5 449.0,569.5 449.5,562.9 450.0,573.4 450.5,574.3 451.0,563.8 451.5,573.0 452.0,566.8 452.5,565.8 453.0,571.4 453.5,566.7 454.0,566.8 454.5,570.8 455.0,569.8 455.5,568.3 456.0,560.2 456.5,559.5 457.0,568.9 457.5,561.7 458.0,565.5 458.5,561.3 459.0,564.4 459.5,560.7 460.0,570.8 460.5,561.7 461.0,564.7 461.5,564.4 462.0,569.1 462.5,559.8 463.0,564.4 463.5,563.5 464.0,565.8 464.5,565.4 465.0,562.0 465.5,564.4 466.0,562.2 466.5,565.0 467.0,563.1 467.5,561.2 468.0,563.3 468.5,564.7 469.0,571.2 469.5,561.9 470.0,564.7 470.5,568.6 471.0,556.5 471.5,557.6 472.0,559.4 472.5,562.8 473.0,571.2 473.5,564.0 474.0,566.5 474.5,561.3 475.0,553.4 475.5,553.5 476.0,564.2 476.5,561.1 477.0,555.9 477.5,563.7 478.0,554.7 478.5,563.4 479.0,564.3 479.5,556.9 480.0,555.7 480.5,562.0 481.0,555.6 481.5,561.8 482.0,554.9 482.5,561.2 483.0,558.6 483.5,556.6 484.0,554.9 484.5,558.3 485.0,551.3 485.5,556.3 486.0,555.8 486.5,559.1 487.0,552.9 487.5,562.2 488.0,555.7 488.5,552.9 489.0,560.8 489.5,561.5 490.0,555.5 490.5,553.1 491.0,555.8 491.5,553.5 492.0,554.6 492.5,560.3 493.0,556.6 493.5,555.8 494.0,556.4 494.5,555.1 495.0,557.8 495.5,557.8 496.0,553.9 496.5,555.2 497.0,562.1 497.5,555.9 498.0,553.9 498.5,560.6 499.0,554.4 499.5,551.0 500.0,556.3 500.5,551.6 501.0,552.8 501.5,555.3 502.0,554.0 502.5,552.2 503.0,552.9 503.5,552.8 504.0,558.0 504.5,552.4 505.0,552.8 505.5,560.4 506.0,552.7 506.5,558.6 507.0,557.9 507.5,553.5 508.0,549.7 508.5,555.1 509.0,555.6 509.5,556.4 510.0,553.8 510.5,557.0 511.0,557.6 511.5,550.6 512.0,557.7 512.5,554.1 513.0,552.1 513.5,552.8 514.0,559.1 514.5,556.5 515.0,548.7 515.5,553.9 516.0,553.2 516.5,553.0 517.0,551.9 517.5,549.2 518.0,555.6 518.5,550.5 519.0,552.0 519.5,551.2 520.0,550.8 520.5,554.8 521.0,553.8 521.5,550.9 522.0,550.1 522.5,551.3 523.0,555.2 523.5,552.8 524.0,553.0 524.5,551.4 525.0,551.6 525.5,552.9 526.0,547.5 526.5,556.9 527.0,550.6 527.5,551.4 528.0,556.6 528.5,553.8 529.0,553.4 529.5,551.8 530.0,549.3 530.5,554.0 531.0,556.7 531.5,551.2 532.0,557.2 532.5,550.7 533.0,551.7 533.5,554.9 534.0,553.4 534.5,555.1 535.0,551.2 535.5,550.3 536.0,548.1 536.5,549.7 537.0,549.9 537.5,548.9 538.0,553.3 538.5,550.7 539.0,547.4 539.5,558.5 540.0,550.2 540.5,549.2 541.0,555.5 541.5,555.4 542.0,549.8 542.5,549.1 543.0,550.5 543.5,555.8 544.0,552.5 544.5,551.5 545.0,553.6 545.5,556.7 546.0,550.7 546.5,553.2 547.0,551.0 547.5,559.6 548.0,558.8 548.5,556.9 549.0,554.4 549.5,556.4 550.0,550.1 550.5,556.0 551.0,552.6 551.5,553.0 552.0,554.7 552.5,555.9 553.0,558.3 553.5,558.8 554.0,558.1 554.5,555.6 555.0,559.4 555.5,557.9 556.0,561.0 556.5,556.7 557.0,552.9 557.5,558.3 558.0,564.4 558.5,561.1 559.0,560.0 559.5,562.8 560.0,562.4 560.5,562.8 561.0,561.2 561.5,563.0 562.0,563.7 562.5,562.3 563.0,561.6 563.5,564.6 564.0,566.7 564.5,566.3 565.0,566.4 565.5,567.1 566.0,572.0 566.5,568.0 567.0,570.3 567.5,572.8 568.0,569.7 568.5,570.8 569.0,573.0 569.5,575.0 570.0,572.9 570.5,573.7 571.0,573.9 571.5,572.2 572.0,577.4 572.5,575.5 573.0,573.5 573.5,577.4 574.0,575.2 574.5,577.4 575.0,580.2 575.5,579.4 576.0,584.0 576.5,580.1 577.0,584.1 577.5,585.5 578.0,587.9 578.5,587.7 579.0,587.2 579.5,587.8 580.0,588.5 580.5,591.9 581.0,589.9 581.5,593.3 582.0,593.5 582.5,595.3 583.0,595.7 583.5,601.1 584.0,597.4 584.5,600.1 585.0,601.3 585.5,603.1 586.0,604.1 586.5,605.3 587.0,607.6 587.5,604.7 588.0,608.6 588.5,607.8 589.0,611.5 589.5,610.5 590.0,612.1 590.5,614.9 591.0,618.7 591.5,613.5 592.0,603.0 592.5,622.7 593.0,620.2 593.5,619.7 594.0,623.8 594.5,625.3 595.0,629.0 595.5,631.1 596.0,626.2 596.5,632.8 597.0,632.0 597.5,631.5 598.0,631.3 598.5,635.1 599.0,632.1 599.5,631.9 600.0,633.4 600.5,631.5 601.0,634.7 601.5,634.2 602.0,635.2 602.5,635.6 603.0,633.9 603.5,637.8 604.0,634.7 604.5,638.0 605.0,634.7 605.5,638.0 606.0,636.6 606.5,638.3 607.0,637.6 607.5,635.6 608.0,637.6 608.5,639.7 609.0,640.9 609.5,638.1 610.0,637.5 610.5,639.7 611.0,640.9 611.5,640.6 612.0,640.7 612.5,643.4 613.0,643.9 613.5,643.9 614.0,641.7 614.5,643.5 615.0,643.4 615.5,641.7 616.0,645.3 616.5,644.4 617.0,643.7 617.5,646.7 618.0,645.9 618.5,646.2 619.0,646.9 619.5,646.2 620.0,638.3 620.5,628.0 621.0,647.1 621.5,644.7 622.0,646.1 622.5,646.9 623.0,648.6 623.5,648.7 624.0,648.4 624.5,647.1 625.0,649.0 625.5,648.8 626.0,648.1 626.5,650.7 627.0,649.8 627.5,648.2 628.0,651.4 628.5,649.5 629.0,650.9 629.5,648.0 630.0,650.4 630.5,649.2 631.0,649.3 631.5,648.1 632.0,654.1 632.5,650.9 633.0,651.7 633.5,653.1 634.0,651.4 634.5,652.5 635.0,649.9 635.5,652.3 636.0,651.5 636.5,653.0 637.0,652.7 637.5,650.7 638.0,650.3 638.5,651.8 639.0,654.6 639.5,654.3 640.0,654.5 640.5,651.2 641.0,650.3 641.5,653.5 642.0,654.0 642.5,653.7 643.0,655.3 643.5,654.6 644.0,653.3 644.5,653.9 645.0,655.5 645.5,655.6 646.0,644.0 646.5,621.0 647.0,655.5 647.5,656.2 648.0,654.7 648.5,655.8 649.0,657.2 649.5,657.5 650.0,656.6 650.5,657.6 651.0,657.2 651.5,654.6 652.0,652.7 652.5,660.8 653.0,658.7 653.5,657.5 654.0,655.2 654.5,655.9 655.0,659.7 655.5,653.8 656.0,657.4 656.5,659.1 657.0,658.2 657.5,659.1 658.0,657.9 658.5,661.5 659.0,656.7 659.5,656.3 660.0,658.7 660.5,660.4 661.0,658.4 661.5,660.0 662.0,657.9 662.5,657.1 663.0,660.8 663.5,661.1 664.0,661.1 664.5,658.4 665.0,657.5 665.5,657.5 666.0,658.8 666.5,660.0 667.0,660.0 667.5,657.3 668.0,659.7 668.5,659.5 669.0,659.7 669.5,659.6 670.0,659.3 670.5,660.5 671.0,659.8 671.5,639.7 672.0,599.0 672.5,660.2 673.0,659.5 673.5,656.7 674.0,660.3 674.5,659.3 675.0,661.0" fill="none" stroke="#000" stroke-width="2.0" stroke-linejoin="round" />
</g>
<text x="299.09" y="764.50" font-family="Liberation Serif" font-size="17.2" fill="#262626" textLength="139.29" lengthAdjust="spacingAndGlyphs" >Frequency (kHz)</text>
<g transform="translate(16.6,675.5) rotate(-90) scale(1.09)"><text x="-0.22" y="0.00" font-family="Liberation Serif" font-size="19" font-style="italic" fill="#262626" textLength="11.16" lengthAdjust="spacingAndGlyphs" >S</text><text x="11.48" y="2.20" font-family="Liberation Serif" font-size="13" font-style="italic" fill="#262626" textLength="11.29" lengthAdjust="spacingAndGlyphs" >yy</text><text x="24.62" y="-0.20" font-family="Liberation Serif" font-size="19.8" fill="#262626" textLength="6.53" lengthAdjust="spacingAndGlyphs" >(</text><text x="30.50" y="0.00" font-family="Liberation Serif" font-size="19" font-style="italic" fill="#262626" textLength="27.97" lengthAdjust="spacingAndGlyphs" >nm</text><text x="57.11" y="-8.10" font-family="Liberation Serif" font-size="12.5" fill="#262626" textLength="7.63" lengthAdjust="spacingAndGlyphs" >2</text><text x="65.60" y="3.40" font-family="Liberation Serif" font-size="25.8" fill="#262626" textLength="7.27" lengthAdjust="spacingAndGlyphs" >/</text><text x="75.10" y="0.00" font-family="Liberation Serif" font-size="19" font-style="italic" fill="#262626" textLength="14.16" lengthAdjust="spacingAndGlyphs" >H</text><text x="91.10" y="0.00" font-family="Liberation Serif" font-size="19" font-style="italic" fill="#262626" textLength="7.68" lengthAdjust="spacingAndGlyphs" >z</text><text x="99.26" y="-0.20" font-family="Liberation Serif" font-size="19.8" fill="#262626" textLength="6.02" lengthAdjust="spacingAndGlyphs" >)</text></g>
<line x1="73.10" y1="533.60" x2="99.40" y2="533.60" stroke="#000" stroke-width="1.9" />
<line x1="73.1" y1="553" x2="99.4" y2="553" stroke="#fa6432" stroke-width="1.8" stroke-dasharray="5.6,1.5,2.4,1.5"/>
<line x1="73.1" y1="572.2" x2="99.4" y2="572.2" stroke="#ebb026" stroke-width="1.8" stroke-dasharray="5.6,1.5,2.4,1.5"/>
<text x="101.12" y="538.00" font-family="Liberation Serif" font-size="16" fill="#000" textLength="28.26" lengthAdjust="spacingAndGlyphs" >20 s</text>
<text x="100.84" y="557.00" font-family="Liberation Serif" font-size="16" fill="#000" textLength="33.93" lengthAdjust="spacingAndGlyphs" >5 ms</text>
<text x="100.84" y="576.10" font-family="Liberation Serif" font-size="16" fill="#000" textLength="33.93" lengthAdjust="spacingAndGlyphs" >5 ms</text>
<text x="657.88" y="712.60" font-family="Liberation Sans" font-size="21" font-weight="bold" fill="#000" textLength="13.31" lengthAdjust="spacingAndGlyphs" stroke="#000" stroke-width="0.6">b</text>
</svg>
</body></html>
